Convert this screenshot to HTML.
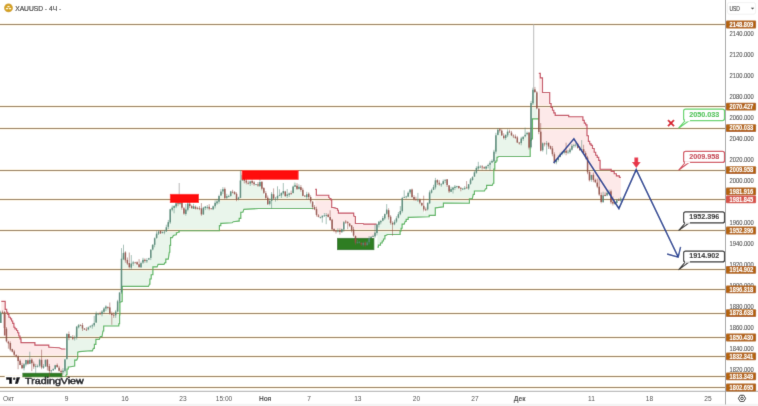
<!DOCTYPE html><html><head><meta charset="utf-8"><style>html,body{margin:0;padding:0;background:#fff;width:758px;height:406px;overflow:hidden}#w{position:absolute;left:0;top:0;width:758px;height:406px}svg{position:absolute;left:0;top:0}text{font-family:"Liberation Sans",sans-serif}</style></head><body><div id="w"><svg width="758" height="406" viewBox="0 0 758 406"><defs><filter id="bl" x="0" y="0" width="100%" height="100%"><feConvolveMatrix order="3" kernelMatrix="0.0081 0.0738 0.0081 0.0738 0.6724 0.0738 0.0081 0.0738 0.0081" edgeMode="duplicate"/></filter></defs><g filter="url(#bl)"><rect x="0" y="0" width="758" height="406" fill="#fff"/><rect x="0" y="403.8" width="758" height="3" fill="#f3f3f3"/><polygon points="1.3,301.4 5.0,301.4 5.2,301.4 5.2,309.4 5.5,309.4 6.7,309.4 6.7,312.2 7.8,312.2 7.8,314.4 8.9,314.4 8.9,317.2 10.5,317.2 10.5,318.8 11.6,318.8 11.6,321.0 12.7,321.0 12.7,323.3 13.9,323.3 13.9,327.2 15.0,327.2 15.0,328.8 16.6,328.8 16.6,330.5 17.7,330.5 17.7,332.7 18.8,332.7 18.8,336.0 20.0,336.0 20.0,338.8 21.0,338.8 21.0,342.6 34.6,342.6 34.9,342.6 34.9,345.1 35.2,345.1 48.2,345.1 48.8,345.1 48.8,347.2 49.4,347.2 59.3,347.8 61.7,349.0 65.4,349.0 65.4,358.3 63.9,359.0 62.9,372.9 61.0,373.0 59.0,369.0 57.0,367.0 55.0,366.0 53.5,369.0 52.0,369.0 50.5,373.0 49.0,371.0 47.0,367.0 45.5,361.0 44.0,364.0 42.5,368.0 41.0,366.0 39.5,361.0 38.0,367.0 36.5,366.0 35.0,367.0 33.0,366.0 31.5,364.0 30.0,361.0 28.5,365.0 27.0,358.0 25.5,361.0 24.0,364.0 22.5,368.0 20.5,365.0 18.5,361.0 16.5,355.0 14.0,355.0 12.0,351.0 10.0,348.0 8.5,345.0 6.5,341.0 4.8,335.0 3.6,313.0 1.3,313.0" fill="#fde9e9"/><polygon points="315.2,189.4 316.4,189.4 316.4,195.2 328.5,195.2 328.8,195.2 328.8,197.5 329.1,197.5 330.3,198.6 330.9,198.6 330.9,199.8 331.4,199.8 331.7,199.8 331.7,207.3 332.0,207.3 334.9,207.9 336.6,208.5 337.5,208.5 337.5,210.2 338.4,210.2 338.4,213.1 353.4,213.1 353.7,213.1 353.7,216.0 354.0,216.0 355.1,216.6 355.4,216.6 355.4,223.5 355.7,223.5 363.2,223.5 363.8,224.1 376.5,224.1 376.5,225.7 374.4,237.2 368.9,238.1 365.9,245.0 362.0,244.0 358.1,242.0 356.1,244.0 354.1,238.1 352.1,229.2 350.2,226.2 346.2,223.3 343.3,222.3 341.3,233.1 337.4,231.2 334.4,231.2 331.5,228.2 329.5,217.4 326.5,215.4 323.6,213.4 319.6,217.4 316.7,216.4 315.2,211.2" fill="#fde9e9"/><polygon points="538.8,73.3 540.3,73.3 540.3,77.8 542.5,77.8 542.5,92.5 549.7,92.5 549.7,103.5 551.1,103.5 551.1,107.5 552.5,107.5 552.5,110.2 553.8,110.2 553.8,112.9 555.2,112.9 555.2,115.3 568.7,115.3 568.7,116.7 582.9,116.7 582.9,120.4 584.3,120.4 584.3,123.1 585.7,123.1 585.7,124.8 587.0,124.8 587.0,135.7 588.4,135.7 588.4,141.4 589.7,141.4 589.7,143.8 591.1,143.8 591.1,145.4 592.5,145.4 592.5,148.5 594.2,148.5 594.2,152.2 595.7,152.2 595.7,155.2 597.2,155.2 597.2,157.4 598.7,157.4 598.7,160.4 600.1,160.4 600.1,169.2 611.2,169.2 611.2,171.4 614.2,171.4 614.2,173.7 616.4,173.7 616.4,175.9 619.4,175.9 619.4,177.4 620.9,177.4 620.9,199.0 620.5,199.0 617.4,201.1 614.3,202.2 611.1,202.2 609.0,192.8 605.9,194.9 602.8,196.9 600.7,203.2 599.6,194.9 597.5,186.5 594.4,181.3 591.3,176.0 588.1,182.3 587.1,163.5 585.0,153.0 581.8,149.9 578.7,147.8 575.6,144.6 572.4,146.7 569.3,150.9 565.1,152.0 560.9,154.1 557.8,157.2 554.6,161.4 552.6,155.1 549.4,146.7 546.3,144.6 543.1,142.6 540.2,153.0 538.8,133.2" fill="#fde9e9"/><polygon points="63.5,376.5 65.5,376.5 66.5,374.6 67.0,374.6 67.0,369.0 67.5,369.0 68.3,369.0 68.3,367.0 69.2,367.0 74.7,366.0 74.7,360.1 76.7,360.1 77.7,358.1 77.7,352.2 79.6,351.6 90.5,350.8 92.4,350.8 93.4,348.3 94.4,348.3 94.4,344.3 95.4,344.3 95.9,344.3 95.9,339.4 96.4,339.4 99.3,339.4 100.3,336.5 102.0,336.5 103.0,331.0 103.7,331.0 103.7,326.0 104.4,326.0 118.5,326.0 118.8,326.0 118.8,323.7 119.2,323.7 119.6,323.7 119.6,314.9 119.9,314.9 119.9,302.3 122.2,301.6 122.2,286.4 146.9,286.4 148.5,286.4 149.5,284.1 149.9,284.1 149.9,279.0 150.3,279.0 151.2,279.0 151.2,274.7 152.1,274.7 152.9,274.7 152.9,266.9 153.8,266.9 157.1,266.9 158.1,264.3 164.0,264.3 165.0,262.6 165.8,262.6 165.8,259.1 166.7,259.1 168.3,259.1 169.3,252.2 169.8,252.2 169.8,245.3 170.2,245.3 170.6,245.3 170.6,237.6 171.0,237.6 172.4,237.6 173.4,235.5 176.0,234.7 176.4,234.7 176.4,232.9 176.9,232.9 178.6,232.1 179.1,232.1 179.1,230.7 179.5,230.7 218.9,230.7 219.4,230.7 219.4,225.6 220.0,225.6 220.8,225.6 220.8,223.3 221.7,223.3 232.2,222.8 233.3,221.7 238.3,221.1 239.2,221.1 239.2,218.3 240.0,218.3 240.8,218.3 240.8,212.2 241.6,212.2 242.9,212.2 243.9,209.4 258.9,208.5 313.5,208.5 313.5,207.5 311.7,204.6 309.8,200.6 306.8,194.7 302.9,196.7 300.0,185.9 296.7,189.3 294.1,180.7 291.6,193.6 288.1,195.3 285.5,197.1 283.8,191.0 279.5,195.3 276.0,197.1 273.4,199.7 271.7,194.5 270.0,199.7 267.4,203.1 264.8,196.2 262.2,189.3 260.5,182.4 257.9,184.1 254.5,185.9 251.9,183.3 248.4,182.4 245.9,184.1 242.4,173.8 240.7,172.1 239.8,197.1 237.2,199.7 235.5,195.3 232.9,191.9 230.3,192.8 226.9,197.1 225.2,199.7 223.4,189.0 220.9,192.4 218.3,199.3 215.7,202.8 213.1,207.1 210.5,209.7 205.3,207.1 202.8,207.9 201.0,215.7 199.3,206.2 196.7,207.9 193.3,207.1 190.7,208.8 188.1,203.6 185.5,209.7 182.9,214.8 181.2,203.6 179.5,202.8 176.0,204.5 172.6,206.2 170.0,208.8 169.1,220.0 167.4,223.4 165.7,230.3 162.2,233.8 157.1,232.9 155.5,235.0 153.8,243.6 151.2,245.3 150.3,255.7 147.8,260.9 145.2,260.0 142.6,258.3 140.0,268.6 137.4,266.0 134.0,262.6 131.4,262.6 129.7,269.5 127.9,265.2 125.3,260.9 123.6,251.4 121.9,257.4 120.2,269.5 119.3,302.2 117.7,301.6 117.0,306.8 115.5,310.5 114.0,314.1 112.6,317.8 111.1,315.6 109.6,311.9 108.1,306.8 106.6,306.0 104.4,308.2 102.2,310.5 100.0,313.4 97.4,312.8 95.4,315.8 93.4,325.6 87.5,326.6 85.5,331.5 82.6,327.6 79.6,323.6 76.7,325.6 74.7,336.5 72.7,338.4 69.8,336.5 66.8,335.5 65.8,358.1 63.9,359.0 63.5,364.6" fill="#e9f5eb"/><polygon points="377.4,247.1 378.4,247.1 378.4,245.1 379.5,245.1 380.5,245.1 380.5,243.0 381.5,243.0 382.2,243.0 382.2,241.0 382.9,241.0 383.5,241.0 383.5,239.0 384.2,239.0 384.9,239.0 384.9,235.6 385.6,235.6 387.6,234.5 399.8,234.5 400.1,234.5 400.1,230.9 400.4,230.9 401.1,230.9 401.1,228.2 401.8,228.2 402.1,228.2 402.1,224.1 402.5,224.1 404.2,224.1 405.2,221.4 406.2,221.4 406.2,219.4 407.2,219.4 408.2,219.4 408.2,217.3 409.2,217.3 428.9,216.7 429.2,216.7 429.2,215.3 429.5,215.3 435.0,215.3 435.3,215.3 435.3,207.9 435.6,207.9 443.1,206.9 443.4,206.9 443.4,203.1 443.7,203.1 468.8,203.2 469.4,203.2 469.4,198.7 469.9,198.7 472.3,198.7 473.3,194.3 474.4,194.3 474.4,191.0 475.5,191.0 484.5,191.0 485.5,188.7 486.6,188.7 486.6,185.4 487.7,185.4 492.2,185.4 493.2,183.2 493.8,183.2 493.8,169.1 494.4,169.1 494.8,169.1 494.8,162.4 495.2,162.4 495.9,162.4 495.9,161.0 496.6,161.0 497.0,161.0 497.0,157.3 497.4,157.3 498.9,156.5 529.9,156.5 530.2,156.5 530.2,140.3 530.6,140.3 531.4,140.3 531.4,138.8 532.1,138.8 532.5,138.8 532.5,118.9 532.8,118.9 538.0,118.9 538.0,121.8 537.8,119.0 536.0,97.0 534.2,88.5 532.4,92.0 530.6,106.0 529.2,150.0 528.4,139.5 526.9,132.2 525.5,132.9 524.0,137.3 521.8,136.6 519.5,141.8 517.3,141.0 515.8,139.5 513.6,136.6 510.7,133.6 507.7,130.7 506.2,132.2 504.8,137.3 502.6,139.5 501.1,132.2 499.6,130.7 498.1,129.2 495.9,136.6 494.4,148.4 493.2,159.9 491.0,163.2 486.6,165.5 483.2,168.8 478.8,166.6 475.5,167.7 473.3,177.6 469.9,178.8 467.7,186.5 462.2,187.6 458.8,188.7 455.5,185.4 452.2,186.5 448.9,191.0 444.4,178.8 442.5,183.8 439.3,183.8 436.2,179.7 434.1,183.8 432.0,190.1 428.9,192.2 427.8,203.7 425.7,209.0 424.7,214.2 422.6,206.9 420.5,201.6 417.3,199.5 414.2,199.5 412.1,196.4 410.0,190.1 409.0,191.2 406.9,197.5 403.7,198.5 401.6,199.5 400.6,209.0 398.5,213.2 395.4,220.5 392.2,223.6 389.1,220.5 387.0,210.0 385.9,212.1 382.8,219.4 379.7,219.4 377.4,223.9" fill="#e9f5eb"/><line x1="0" y1="24.50" x2="725.5" y2="24.50" stroke="#fcf1da" stroke-opacity="0.7" stroke-width="3"/><line x1="0" y1="106.50" x2="725.5" y2="106.50" stroke="#fcf1da" stroke-opacity="0.7" stroke-width="3"/><line x1="0" y1="128.50" x2="725.5" y2="128.50" stroke="#fcf1da" stroke-opacity="0.7" stroke-width="3"/><line x1="0" y1="170.50" x2="725.5" y2="170.50" stroke="#fcf1da" stroke-opacity="0.7" stroke-width="3"/><line x1="0" y1="199.50" x2="725.5" y2="199.50" stroke="#fcf1da" stroke-opacity="0.7" stroke-width="3"/><line x1="0" y1="230.50" x2="725.5" y2="230.50" stroke="#fcf1da" stroke-opacity="0.7" stroke-width="3"/><line x1="0" y1="269.50" x2="725.5" y2="269.50" stroke="#fcf1da" stroke-opacity="0.7" stroke-width="3"/><line x1="0" y1="289.50" x2="725.5" y2="289.50" stroke="#fcf1da" stroke-opacity="0.7" stroke-width="3"/><line x1="0" y1="313.50" x2="725.5" y2="313.50" stroke="#fcf1da" stroke-opacity="0.7" stroke-width="3"/><line x1="0" y1="337.50" x2="725.5" y2="337.50" stroke="#fcf1da" stroke-opacity="0.7" stroke-width="3"/><line x1="0" y1="356.50" x2="725.5" y2="356.50" stroke="#fcf1da" stroke-opacity="0.7" stroke-width="3"/><line x1="0" y1="376.50" x2="725.5" y2="376.50" stroke="#fcf1da" stroke-opacity="0.7" stroke-width="3"/><line x1="0" y1="387.50" x2="725.5" y2="387.50" stroke="#fcf1da" stroke-opacity="0.7" stroke-width="3"/><line x1="0" y1="24.50" x2="725.5" y2="24.50" stroke="#977d57" stroke-width="1"/><line x1="0" y1="106.50" x2="725.5" y2="106.50" stroke="#977d57" stroke-width="1"/><line x1="0" y1="128.50" x2="725.5" y2="128.50" stroke="#977d57" stroke-width="1"/><line x1="0" y1="170.50" x2="725.5" y2="170.50" stroke="#977d57" stroke-width="1"/><line x1="0" y1="199.50" x2="725.5" y2="199.50" stroke="#977d57" stroke-width="1"/><line x1="0" y1="230.50" x2="725.5" y2="230.50" stroke="#977d57" stroke-width="1"/><line x1="0" y1="269.50" x2="725.5" y2="269.50" stroke="#977d57" stroke-width="1"/><line x1="0" y1="289.50" x2="725.5" y2="289.50" stroke="#977d57" stroke-width="1"/><line x1="0" y1="313.50" x2="725.5" y2="313.50" stroke="#977d57" stroke-width="1"/><line x1="0" y1="337.50" x2="725.5" y2="337.50" stroke="#977d57" stroke-width="1"/><line x1="0" y1="356.50" x2="725.5" y2="356.50" stroke="#977d57" stroke-width="1"/><line x1="0" y1="376.50" x2="725.5" y2="376.50" stroke="#977d57" stroke-width="1"/><line x1="0" y1="387.50" x2="725.5" y2="387.50" stroke="#977d57" stroke-width="1"/><polyline points="1.3,301.4 5.0,301.4 5.2,301.4 5.2,309.4 5.5,309.4 6.7,309.4 6.7,312.2 7.8,312.2 7.8,314.4 8.9,314.4 8.9,317.2 10.5,317.2 10.5,318.8 11.6,318.8 11.6,321.0 12.7,321.0 12.7,323.3 13.9,323.3 13.9,327.2 15.0,327.2 15.0,328.8 16.6,328.8 16.6,330.5 17.7,330.5 17.7,332.7 18.8,332.7 18.8,336.0 20.0,336.0 20.0,338.8 21.0,338.8 21.0,342.6 34.6,342.6 34.9,342.6 34.9,345.1 35.2,345.1 48.2,345.1 48.8,345.1 48.8,347.2 49.4,347.2 59.3,347.8 61.7,349.0 65.4,349.0" fill="none" stroke="#c44a5e" stroke-width="1.15" stroke-linejoin="miter"/><polyline points="315.2,189.4 316.4,189.4 316.4,195.2 328.5,195.2 328.8,195.2 328.8,197.5 329.1,197.5 330.3,198.6 330.9,198.6 330.9,199.8 331.4,199.8 331.7,199.8 331.7,207.3 332.0,207.3 334.9,207.9 336.6,208.5 337.5,208.5 337.5,210.2 338.4,210.2 338.4,213.1 353.4,213.1 353.7,213.1 353.7,216.0 354.0,216.0 355.1,216.6 355.4,216.6 355.4,223.5 355.7,223.5 363.2,223.5 363.8,224.1 376.5,224.1" fill="none" stroke="#c44a5e" stroke-width="1.15" stroke-linejoin="miter"/><polyline points="538.8,73.3 540.3,73.3 540.3,77.8 542.5,77.8 542.5,92.5 549.7,92.5 549.7,103.5 551.1,103.5 551.1,107.5 552.5,107.5 552.5,110.2 553.8,110.2 553.8,112.9 555.2,112.9 555.2,115.3 568.7,115.3 568.7,116.7 582.9,116.7 582.9,120.4 584.3,120.4 584.3,123.1 585.7,123.1 585.7,124.8 587.0,124.8 587.0,135.7 588.4,135.7 588.4,141.4 589.7,141.4 589.7,143.8 591.1,143.8 591.1,145.4 592.5,145.4 592.5,148.5 594.2,148.5 594.2,152.2 595.7,152.2 595.7,155.2 597.2,155.2 597.2,157.4 598.7,157.4 598.7,160.4 600.1,160.4 600.1,169.2 611.2,169.2 611.2,171.4 614.2,171.4 614.2,173.7 616.4,173.7 616.4,175.9 619.4,175.9 619.4,177.4 620.9,177.4" fill="none" stroke="#c44a5e" stroke-width="1.15" stroke-linejoin="miter"/><polyline points="63.5,376.5 65.5,376.5 66.5,374.6 67.0,374.6 67.0,369.0 67.5,369.0 68.3,369.0 68.3,367.0 69.2,367.0 74.7,366.0 74.7,360.1 76.7,360.1 77.7,358.1 77.7,352.2 79.6,351.6 90.5,350.8 92.4,350.8 93.4,348.3 94.4,348.3 94.4,344.3 95.4,344.3 95.9,344.3 95.9,339.4 96.4,339.4 99.3,339.4 100.3,336.5 102.0,336.5 103.0,331.0 103.7,331.0 103.7,326.0 104.4,326.0 118.5,326.0 118.8,326.0 118.8,323.7 119.2,323.7 119.6,323.7 119.6,314.9 119.9,314.9 119.9,302.3 122.2,301.6 122.2,286.4 146.9,286.4 148.5,286.4 149.5,284.1 149.9,284.1 149.9,279.0 150.3,279.0 151.2,279.0 151.2,274.7 152.1,274.7 152.9,274.7 152.9,266.9 153.8,266.9 157.1,266.9 158.1,264.3 164.0,264.3 165.0,262.6 165.8,262.6 165.8,259.1 166.7,259.1 168.3,259.1 169.3,252.2 169.8,252.2 169.8,245.3 170.2,245.3 170.6,245.3 170.6,237.6 171.0,237.6 172.4,237.6 173.4,235.5 176.0,234.7 176.4,234.7 176.4,232.9 176.9,232.9 178.6,232.1 179.1,232.1 179.1,230.7 179.5,230.7 218.9,230.7 219.4,230.7 219.4,225.6 220.0,225.6 220.8,225.6 220.8,223.3 221.7,223.3 232.2,222.8 233.3,221.7 238.3,221.1 239.2,221.1 239.2,218.3 240.0,218.3 240.8,218.3 240.8,212.2 241.6,212.2 242.9,212.2 243.9,209.4 258.9,208.5 313.5,208.5" fill="none" stroke="#55b35c" stroke-width="1.15" stroke-linejoin="miter"/><polyline points="377.4,247.1 378.4,247.1 378.4,245.1 379.5,245.1 380.5,245.1 380.5,243.0 381.5,243.0 382.2,243.0 382.2,241.0 382.9,241.0 383.5,241.0 383.5,239.0 384.2,239.0 384.9,239.0 384.9,235.6 385.6,235.6 387.6,234.5 399.8,234.5 400.1,234.5 400.1,230.9 400.4,230.9 401.1,230.9 401.1,228.2 401.8,228.2 402.1,228.2 402.1,224.1 402.5,224.1 404.2,224.1 405.2,221.4 406.2,221.4 406.2,219.4 407.2,219.4 408.2,219.4 408.2,217.3 409.2,217.3 428.9,216.7 429.2,216.7 429.2,215.3 429.5,215.3 435.0,215.3 435.3,215.3 435.3,207.9 435.6,207.9 443.1,206.9 443.4,206.9 443.4,203.1 443.7,203.1 468.8,203.2 469.4,203.2 469.4,198.7 469.9,198.7 472.3,198.7 473.3,194.3 474.4,194.3 474.4,191.0 475.5,191.0 484.5,191.0 485.5,188.7 486.6,188.7 486.6,185.4 487.7,185.4 492.2,185.4 493.2,183.2 493.8,183.2 493.8,169.1 494.4,169.1 494.8,169.1 494.8,162.4 495.2,162.4 495.9,162.4 495.9,161.0 496.6,161.0 497.0,161.0 497.0,157.3 497.4,157.3 498.9,156.5 529.9,156.5 530.2,156.5 530.2,140.3 530.6,140.3 531.4,140.3 531.4,138.8 532.1,138.8 532.5,138.8 532.5,118.9 532.8,118.9 538.0,118.9" fill="none" stroke="#55b35c" stroke-width="1.15" stroke-linejoin="miter"/><rect x="22.4" y="372.8" width="40" height="4.4" fill="#2f7d22"/><rect x="337" y="237.9" width="37.3" height="12.2" fill="#2f7d22"/><g opacity="0.97"><line x1="0.6" y1="310.7" x2="0.6" y2="313.0" stroke="#528777" stroke-width="0.55"/><rect x="-0.15" y="312.4" width="1.5" height="0.8" fill="#528777"/><line x1="2.5" y1="310.5" x2="2.5" y2="312.9" stroke="#934e45" stroke-width="0.55"/><rect x="1.80" y="311.9" width="1.5" height="0.8" fill="#934e45"/><line x1="4.5" y1="310.9" x2="4.5" y2="334.6" stroke="#934e45" stroke-width="0.55"/><rect x="3.75" y="312.1" width="1.5" height="16.0" fill="#934e45"/><line x1="6.5" y1="327.1" x2="6.5" y2="342.4" stroke="#934e45" stroke-width="0.55"/><rect x="5.70" y="328.7" width="1.5" height="12.6" fill="#934e45"/><line x1="8.4" y1="340.8" x2="8.4" y2="348.7" stroke="#934e45" stroke-width="0.55"/><rect x="7.65" y="341.7" width="1.5" height="1.7" fill="#934e45"/><line x1="10.3" y1="341.4" x2="10.3" y2="351.3" stroke="#934e45" stroke-width="0.55"/><rect x="9.60" y="343.0" width="1.5" height="6.6" fill="#934e45"/><line x1="12.3" y1="348.7" x2="12.3" y2="352.4" stroke="#934e45" stroke-width="0.55"/><rect x="11.55" y="349.0" width="1.5" height="2.7" fill="#934e45"/><line x1="14.2" y1="349.9" x2="14.2" y2="356.1" stroke="#934e45" stroke-width="0.55"/><rect x="13.50" y="351.5" width="1.5" height="3.2" fill="#934e45"/><line x1="16.2" y1="354.2" x2="16.2" y2="357.5" stroke="#934e45" stroke-width="0.55"/><rect x="15.45" y="355.0" width="1.5" height="0.9" fill="#934e45"/><line x1="18.1" y1="355.3" x2="18.1" y2="369.2" stroke="#934e45" stroke-width="0.55"/><rect x="17.40" y="356.2" width="1.5" height="4.9" fill="#934e45"/><line x1="20.1" y1="359.4" x2="20.1" y2="365.3" stroke="#934e45" stroke-width="0.55"/><rect x="19.35" y="360.7" width="1.5" height="4.3" fill="#934e45"/><line x1="22.0" y1="362.8" x2="22.0" y2="369.1" stroke="#934e45" stroke-width="0.55"/><rect x="21.30" y="365.1" width="1.5" height="3.1" fill="#934e45"/><line x1="24.0" y1="363.0" x2="24.0" y2="370.5" stroke="#528777" stroke-width="0.55"/><rect x="23.25" y="364.3" width="1.5" height="4.0" fill="#528777"/><line x1="25.9" y1="359.7" x2="25.9" y2="366.4" stroke="#528777" stroke-width="0.55"/><rect x="25.20" y="360.0" width="1.5" height="4.5" fill="#528777"/><line x1="27.9" y1="359.5" x2="27.9" y2="364.9" stroke="#934e45" stroke-width="0.55"/><rect x="27.15" y="360.4" width="1.5" height="3.4" fill="#934e45"/><line x1="29.8" y1="351.7" x2="29.8" y2="364.2" stroke="#528777" stroke-width="0.55"/><rect x="29.10" y="359.9" width="1.5" height="3.9" fill="#528777"/><line x1="31.8" y1="358.4" x2="31.8" y2="371.2" stroke="#934e45" stroke-width="0.55"/><rect x="31.05" y="359.6" width="1.5" height="3.6" fill="#934e45"/><line x1="33.7" y1="361.5" x2="33.7" y2="368.8" stroke="#934e45" stroke-width="0.55"/><rect x="33.00" y="363.7" width="1.5" height="2.9" fill="#934e45"/><line x1="35.7" y1="363.9" x2="35.7" y2="372.9" stroke="#528777" stroke-width="0.55"/><rect x="34.95" y="366.3" width="1.5" height="0.8" fill="#528777"/><line x1="37.6" y1="364.5" x2="37.6" y2="367.6" stroke="#528777" stroke-width="0.55"/><rect x="36.90" y="365.9" width="1.5" height="0.8" fill="#528777"/><line x1="39.6" y1="358.7" x2="39.6" y2="367.4" stroke="#528777" stroke-width="0.55"/><rect x="38.85" y="359.7" width="1.5" height="6.1" fill="#528777"/><line x1="41.6" y1="349.7" x2="41.6" y2="369.2" stroke="#934e45" stroke-width="0.55"/><rect x="40.80" y="359.8" width="1.5" height="7.6" fill="#934e45"/><line x1="43.5" y1="364.1" x2="43.5" y2="368.9" stroke="#528777" stroke-width="0.55"/><rect x="42.75" y="366.2" width="1.5" height="1.6" fill="#528777"/><line x1="45.5" y1="359.5" x2="45.5" y2="366.8" stroke="#528777" stroke-width="0.55"/><rect x="44.70" y="359.8" width="1.5" height="6.6" fill="#528777"/><line x1="47.4" y1="359.3" x2="47.4" y2="370.5" stroke="#934e45" stroke-width="0.55"/><rect x="46.65" y="359.6" width="1.5" height="7.1" fill="#934e45"/><line x1="49.4" y1="363.9" x2="49.4" y2="377.2" stroke="#934e45" stroke-width="0.55"/><rect x="48.60" y="366.1" width="1.5" height="4.9" fill="#934e45"/><line x1="51.3" y1="369.9" x2="51.3" y2="373.1" stroke="#528777" stroke-width="0.55"/><rect x="50.55" y="370.4" width="1.5" height="0.8" fill="#528777"/><line x1="53.3" y1="368.5" x2="53.3" y2="370.8" stroke="#528777" stroke-width="0.55"/><rect x="52.50" y="368.9" width="1.5" height="1.5" fill="#528777"/><line x1="55.2" y1="364.8" x2="55.2" y2="369.5" stroke="#528777" stroke-width="0.55"/><rect x="54.45" y="365.3" width="1.5" height="3.9" fill="#528777"/><line x1="57.2" y1="363.4" x2="57.2" y2="367.5" stroke="#934e45" stroke-width="0.55"/><rect x="56.40" y="364.9" width="1.5" height="2.3" fill="#934e45"/><line x1="59.1" y1="365.8" x2="59.1" y2="371.6" stroke="#934e45" stroke-width="0.55"/><rect x="58.35" y="367.7" width="1.5" height="3.1" fill="#934e45"/><line x1="61.1" y1="369.6" x2="61.1" y2="374.0" stroke="#934e45" stroke-width="0.55"/><rect x="60.30" y="371.1" width="1.5" height="0.9" fill="#934e45"/><line x1="63.0" y1="368.1" x2="63.0" y2="374.6" stroke="#528777" stroke-width="0.55"/><rect x="62.25" y="370.6" width="1.5" height="1.7" fill="#528777"/><line x1="65.0" y1="358.8" x2="65.0" y2="372.4" stroke="#528777" stroke-width="0.55"/><rect x="64.20" y="359.5" width="1.5" height="11.4" fill="#528777"/><line x1="66.9" y1="333.2" x2="66.9" y2="359.8" stroke="#528777" stroke-width="0.55"/><rect x="66.15" y="334.0" width="1.5" height="24.9" fill="#528777"/><line x1="68.9" y1="331.5" x2="68.9" y2="340.2" stroke="#934e45" stroke-width="0.55"/><rect x="68.10" y="334.0" width="1.5" height="3.7" fill="#934e45"/><line x1="70.8" y1="336.0" x2="70.8" y2="338.0" stroke="#528777" stroke-width="0.55"/><rect x="70.05" y="336.7" width="1.5" height="0.8" fill="#528777"/><line x1="72.8" y1="335.0" x2="72.8" y2="340.1" stroke="#934e45" stroke-width="0.55"/><rect x="72.00" y="337.2" width="1.5" height="1.5" fill="#934e45"/><line x1="74.7" y1="335.7" x2="74.7" y2="340.6" stroke="#528777" stroke-width="0.55"/><rect x="73.95" y="337.5" width="1.5" height="0.8" fill="#528777"/><line x1="76.7" y1="326.0" x2="76.7" y2="339.5" stroke="#528777" stroke-width="0.55"/><rect x="75.90" y="326.7" width="1.5" height="10.8" fill="#528777"/><line x1="78.6" y1="324.1" x2="78.6" y2="328.4" stroke="#528777" stroke-width="0.55"/><rect x="77.85" y="325.3" width="1.5" height="2.0" fill="#528777"/><line x1="80.6" y1="324.4" x2="80.6" y2="326.1" stroke="#934e45" stroke-width="0.55"/><rect x="79.80" y="324.9" width="1.5" height="0.8" fill="#934e45"/><line x1="82.5" y1="323.0" x2="82.5" y2="331.0" stroke="#934e45" stroke-width="0.55"/><rect x="81.75" y="325.2" width="1.5" height="3.3" fill="#934e45"/><line x1="84.5" y1="328.0" x2="84.5" y2="329.8" stroke="#934e45" stroke-width="0.55"/><rect x="83.70" y="328.5" width="1.5" height="1.1" fill="#934e45"/><line x1="86.4" y1="327.2" x2="86.4" y2="331.0" stroke="#934e45" stroke-width="0.55"/><rect x="85.65" y="329.6" width="1.5" height="0.8" fill="#934e45"/><line x1="88.4" y1="326.7" x2="88.4" y2="330.3" stroke="#528777" stroke-width="0.55"/><rect x="87.60" y="327.5" width="1.5" height="1.9" fill="#528777"/><line x1="90.3" y1="325.2" x2="90.3" y2="327.7" stroke="#528777" stroke-width="0.55"/><rect x="89.55" y="326.4" width="1.5" height="0.8" fill="#528777"/><line x1="92.3" y1="323.7" x2="92.3" y2="328.7" stroke="#528777" stroke-width="0.55"/><rect x="91.50" y="325.3" width="1.5" height="1.0" fill="#528777"/><line x1="94.2" y1="315.9" x2="94.2" y2="326.8" stroke="#528777" stroke-width="0.55"/><rect x="93.45" y="323.0" width="1.5" height="2.3" fill="#528777"/><line x1="96.2" y1="311.5" x2="96.2" y2="323.0" stroke="#528777" stroke-width="0.55"/><rect x="95.40" y="313.7" width="1.5" height="8.8" fill="#528777"/><line x1="98.1" y1="312.7" x2="98.1" y2="315.2" stroke="#528777" stroke-width="0.55"/><rect x="97.35" y="313.7" width="1.5" height="0.8" fill="#528777"/><line x1="100.1" y1="311.7" x2="100.1" y2="315.0" stroke="#934e45" stroke-width="0.55"/><rect x="99.30" y="313.2" width="1.5" height="1.0" fill="#934e45"/><line x1="102.0" y1="310.1" x2="102.0" y2="316.3" stroke="#528777" stroke-width="0.55"/><rect x="101.25" y="311.6" width="1.5" height="2.6" fill="#528777"/><line x1="104.0" y1="307.1" x2="104.0" y2="313.2" stroke="#528777" stroke-width="0.55"/><rect x="103.20" y="308.5" width="1.5" height="3.3" fill="#528777"/><line x1="105.9" y1="305.2" x2="105.9" y2="311.0" stroke="#528777" stroke-width="0.55"/><rect x="105.15" y="306.5" width="1.5" height="2.0" fill="#528777"/><line x1="107.9" y1="306.3" x2="107.9" y2="309.4" stroke="#934e45" stroke-width="0.55"/><rect x="107.10" y="307.1" width="1.5" height="0.8" fill="#934e45"/><line x1="109.8" y1="302.5" x2="109.8" y2="314.7" stroke="#934e45" stroke-width="0.55"/><rect x="109.05" y="307.4" width="1.5" height="6.0" fill="#934e45"/><line x1="111.8" y1="311.6" x2="111.8" y2="324.8" stroke="#934e45" stroke-width="0.55"/><rect x="111.00" y="313.7" width="1.5" height="1.5" fill="#934e45"/><line x1="113.7" y1="312.4" x2="113.7" y2="317.9" stroke="#934e45" stroke-width="0.55"/><rect x="112.95" y="314.8" width="1.5" height="0.8" fill="#934e45"/><line x1="115.7" y1="310.2" x2="115.7" y2="317.9" stroke="#528777" stroke-width="0.55"/><rect x="114.90" y="311.6" width="1.5" height="3.7" fill="#528777"/><line x1="117.6" y1="299.8" x2="117.6" y2="312.5" stroke="#528777" stroke-width="0.55"/><rect x="116.85" y="301.3" width="1.5" height="10.2" fill="#528777"/><line x1="119.6" y1="292.3" x2="119.6" y2="303.1" stroke="#528777" stroke-width="0.55"/><rect x="118.80" y="292.5" width="1.5" height="9.0" fill="#528777"/><line x1="121.5" y1="248.1" x2="121.5" y2="293.8" stroke="#528777" stroke-width="0.55"/><rect x="120.75" y="258.7" width="1.5" height="33.6" fill="#528777"/><line x1="123.5" y1="244.7" x2="123.5" y2="260.1" stroke="#528777" stroke-width="0.55"/><rect x="122.70" y="252.9" width="1.5" height="6.4" fill="#528777"/><line x1="125.4" y1="251.2" x2="125.4" y2="262.7" stroke="#934e45" stroke-width="0.55"/><rect x="124.65" y="252.4" width="1.5" height="7.9" fill="#934e45"/><line x1="127.4" y1="257.5" x2="127.4" y2="265.1" stroke="#934e45" stroke-width="0.55"/><rect x="126.60" y="259.9" width="1.5" height="3.6" fill="#934e45"/><line x1="129.3" y1="252.5" x2="129.3" y2="268.5" stroke="#934e45" stroke-width="0.55"/><rect x="128.55" y="263.0" width="1.5" height="4.2" fill="#934e45"/><line x1="131.3" y1="255.1" x2="131.3" y2="269.8" stroke="#528777" stroke-width="0.55"/><rect x="130.50" y="263.6" width="1.5" height="4.0" fill="#528777"/><line x1="133.2" y1="260.9" x2="133.2" y2="265.9" stroke="#528777" stroke-width="0.55"/><rect x="132.45" y="262.5" width="1.5" height="1.0" fill="#528777"/><line x1="135.2" y1="261.7" x2="135.2" y2="263.0" stroke="#934e45" stroke-width="0.55"/><rect x="134.40" y="262.5" width="1.5" height="0.8" fill="#934e45"/><line x1="137.1" y1="261.3" x2="137.1" y2="265.2" stroke="#934e45" stroke-width="0.55"/><rect x="136.35" y="262.2" width="1.5" height="2.1" fill="#934e45"/><line x1="139.1" y1="259.1" x2="139.1" y2="268.0" stroke="#934e45" stroke-width="0.55"/><rect x="138.30" y="264.3" width="1.5" height="2.7" fill="#934e45"/><line x1="141.0" y1="261.6" x2="141.0" y2="267.9" stroke="#528777" stroke-width="0.55"/><rect x="140.25" y="263.1" width="1.5" height="4.2" fill="#528777"/><line x1="143.0" y1="257.8" x2="143.0" y2="263.9" stroke="#528777" stroke-width="0.55"/><rect x="142.20" y="259.9" width="1.5" height="2.7" fill="#528777"/><line x1="144.9" y1="258.4" x2="144.9" y2="262.7" stroke="#934e45" stroke-width="0.55"/><rect x="144.15" y="259.8" width="1.5" height="1.1" fill="#934e45"/><line x1="146.9" y1="258.2" x2="146.9" y2="263.0" stroke="#528777" stroke-width="0.55"/><rect x="146.10" y="260.1" width="1.5" height="1.2" fill="#528777"/><line x1="148.8" y1="257.8" x2="148.8" y2="259.9" stroke="#528777" stroke-width="0.55"/><rect x="148.05" y="258.3" width="1.5" height="1.2" fill="#528777"/><line x1="150.8" y1="249.3" x2="150.8" y2="260.1" stroke="#528777" stroke-width="0.55"/><rect x="150.00" y="249.7" width="1.5" height="8.2" fill="#528777"/><line x1="152.7" y1="244.1" x2="152.7" y2="250.4" stroke="#528777" stroke-width="0.55"/><rect x="151.95" y="244.9" width="1.5" height="4.6" fill="#528777"/><line x1="154.6" y1="237.4" x2="154.6" y2="247.3" stroke="#528777" stroke-width="0.55"/><rect x="153.90" y="238.2" width="1.5" height="6.6" fill="#528777"/><line x1="156.6" y1="231.2" x2="156.6" y2="238.8" stroke="#528777" stroke-width="0.55"/><rect x="155.85" y="233.7" width="1.5" height="4.2" fill="#528777"/><line x1="158.5" y1="230.2" x2="158.5" y2="235.0" stroke="#528777" stroke-width="0.55"/><rect x="157.80" y="231.6" width="1.5" height="2.0" fill="#528777"/><line x1="160.5" y1="230.1" x2="160.5" y2="233.9" stroke="#934e45" stroke-width="0.55"/><rect x="159.75" y="231.0" width="1.5" height="2.5" fill="#934e45"/><line x1="162.4" y1="231.2" x2="162.4" y2="233.7" stroke="#528777" stroke-width="0.55"/><rect x="161.70" y="232.1" width="1.5" height="0.9" fill="#528777"/><line x1="164.4" y1="229.9" x2="164.4" y2="234.3" stroke="#528777" stroke-width="0.55"/><rect x="163.65" y="231.7" width="1.5" height="0.8" fill="#528777"/><line x1="166.3" y1="224.7" x2="166.3" y2="232.0" stroke="#528777" stroke-width="0.55"/><rect x="165.60" y="227.3" width="1.5" height="4.2" fill="#528777"/><line x1="168.3" y1="219.9" x2="168.3" y2="229.1" stroke="#528777" stroke-width="0.55"/><rect x="167.55" y="222.1" width="1.5" height="4.7" fill="#528777"/><line x1="170.2" y1="208.8" x2="170.2" y2="223.9" stroke="#528777" stroke-width="0.55"/><rect x="169.50" y="209.3" width="1.5" height="13.1" fill="#528777"/><line x1="172.2" y1="205.5" x2="172.2" y2="211.3" stroke="#528777" stroke-width="0.55"/><rect x="171.45" y="207.7" width="1.5" height="2.0" fill="#528777"/><line x1="174.1" y1="205.3" x2="174.1" y2="213.3" stroke="#528777" stroke-width="0.55"/><rect x="173.40" y="206.0" width="1.5" height="1.9" fill="#528777"/><line x1="176.1" y1="201.6" x2="176.1" y2="208.1" stroke="#528777" stroke-width="0.55"/><rect x="175.35" y="203.2" width="1.5" height="3.2" fill="#528777"/><line x1="178.0" y1="203.0" x2="178.0" y2="206.2" stroke="#934e45" stroke-width="0.55"/><rect x="177.30" y="203.2" width="1.5" height="0.9" fill="#934e45"/><line x1="180.0" y1="201.3" x2="180.0" y2="204.5" stroke="#528777" stroke-width="0.55"/><rect x="179.25" y="203.0" width="1.5" height="1.1" fill="#528777"/><line x1="181.9" y1="201.7" x2="181.9" y2="209.7" stroke="#934e45" stroke-width="0.55"/><rect x="181.20" y="202.5" width="1.5" height="5.2" fill="#934e45"/><line x1="183.9" y1="206.9" x2="183.9" y2="214.7" stroke="#934e45" stroke-width="0.55"/><rect x="183.15" y="208.3" width="1.5" height="5.3" fill="#934e45"/><line x1="185.8" y1="203.9" x2="185.8" y2="215.7" stroke="#528777" stroke-width="0.55"/><rect x="185.10" y="209.5" width="1.5" height="4.5" fill="#528777"/><line x1="187.8" y1="199.2" x2="187.8" y2="211.3" stroke="#528777" stroke-width="0.55"/><rect x="187.05" y="203.5" width="1.5" height="6.2" fill="#528777"/><line x1="189.7" y1="201.9" x2="189.7" y2="208.0" stroke="#934e45" stroke-width="0.55"/><rect x="189.00" y="203.7" width="1.5" height="2.4" fill="#934e45"/><line x1="191.7" y1="204.8" x2="191.7" y2="208.7" stroke="#934e45" stroke-width="0.55"/><rect x="190.95" y="206.1" width="1.5" height="2.1" fill="#934e45"/><line x1="193.6" y1="203.8" x2="193.6" y2="209.0" stroke="#528777" stroke-width="0.55"/><rect x="192.90" y="206.2" width="1.5" height="2.6" fill="#528777"/><line x1="195.6" y1="205.5" x2="195.6" y2="209.5" stroke="#934e45" stroke-width="0.55"/><rect x="194.85" y="206.8" width="1.5" height="1.9" fill="#934e45"/><line x1="197.5" y1="206.7" x2="197.5" y2="209.3" stroke="#934e45" stroke-width="0.55"/><rect x="196.80" y="208.3" width="1.5" height="0.8" fill="#934e45"/><line x1="199.5" y1="206.2" x2="199.5" y2="210.2" stroke="#934e45" stroke-width="0.55"/><rect x="198.75" y="208.3" width="1.5" height="0.8" fill="#934e45"/><line x1="201.4" y1="203.1" x2="201.4" y2="215.8" stroke="#934e45" stroke-width="0.55"/><rect x="200.70" y="208.4" width="1.5" height="6.0" fill="#934e45"/><line x1="203.4" y1="206.8" x2="203.4" y2="214.9" stroke="#528777" stroke-width="0.55"/><rect x="202.65" y="207.7" width="1.5" height="6.7" fill="#528777"/><line x1="205.3" y1="206.3" x2="205.3" y2="210.1" stroke="#528777" stroke-width="0.55"/><rect x="204.60" y="206.5" width="1.5" height="1.6" fill="#528777"/><line x1="207.3" y1="205.0" x2="207.3" y2="209.4" stroke="#528777" stroke-width="0.55"/><rect x="206.55" y="206.9" width="1.5" height="0.8" fill="#528777"/><line x1="209.2" y1="204.2" x2="209.2" y2="210.3" stroke="#934e45" stroke-width="0.55"/><rect x="208.50" y="206.8" width="1.5" height="1.9" fill="#934e45"/><line x1="211.2" y1="208.1" x2="211.2" y2="209.2" stroke="#934e45" stroke-width="0.55"/><rect x="210.45" y="208.4" width="1.5" height="0.8" fill="#934e45"/><line x1="213.1" y1="205.5" x2="213.1" y2="210.1" stroke="#528777" stroke-width="0.55"/><rect x="212.40" y="206.3" width="1.5" height="3.0" fill="#528777"/><line x1="215.1" y1="200.3" x2="215.1" y2="208.5" stroke="#528777" stroke-width="0.55"/><rect x="214.35" y="202.8" width="1.5" height="3.4" fill="#528777"/><line x1="217.0" y1="198.9" x2="217.0" y2="204.8" stroke="#528777" stroke-width="0.55"/><rect x="216.30" y="201.4" width="1.5" height="1.9" fill="#528777"/><line x1="219.0" y1="194.7" x2="219.0" y2="203.7" stroke="#528777" stroke-width="0.55"/><rect x="218.25" y="196.0" width="1.5" height="5.7" fill="#528777"/><line x1="220.9" y1="189.2" x2="220.9" y2="196.0" stroke="#528777" stroke-width="0.55"/><rect x="220.20" y="191.6" width="1.5" height="3.8" fill="#528777"/><line x1="222.9" y1="187.2" x2="222.9" y2="193.9" stroke="#528777" stroke-width="0.55"/><rect x="222.15" y="189.2" width="1.5" height="2.2" fill="#528777"/><line x1="224.8" y1="187.4" x2="224.8" y2="199.3" stroke="#934e45" stroke-width="0.55"/><rect x="224.10" y="188.9" width="1.5" height="9.2" fill="#934e45"/><line x1="226.8" y1="193.8" x2="226.8" y2="199.2" stroke="#528777" stroke-width="0.55"/><rect x="226.05" y="196.2" width="1.5" height="1.6" fill="#528777"/><line x1="228.7" y1="194.8" x2="228.7" y2="197.3" stroke="#528777" stroke-width="0.55"/><rect x="228.00" y="196.1" width="1.5" height="0.8" fill="#528777"/><line x1="230.7" y1="190.9" x2="230.7" y2="196.6" stroke="#528777" stroke-width="0.55"/><rect x="229.95" y="191.4" width="1.5" height="4.5" fill="#528777"/><line x1="232.6" y1="189.8" x2="232.6" y2="193.4" stroke="#934e45" stroke-width="0.55"/><rect x="231.90" y="191.8" width="1.5" height="0.8" fill="#934e45"/><line x1="234.6" y1="191.0" x2="234.6" y2="194.5" stroke="#934e45" stroke-width="0.55"/><rect x="233.85" y="192.1" width="1.5" height="2.1" fill="#934e45"/><line x1="236.5" y1="192.3" x2="236.5" y2="201.2" stroke="#934e45" stroke-width="0.55"/><rect x="235.80" y="193.8" width="1.5" height="5.8" fill="#934e45"/><line x1="238.5" y1="196.7" x2="238.5" y2="200.4" stroke="#528777" stroke-width="0.55"/><rect x="237.75" y="197.5" width="1.5" height="1.7" fill="#528777"/><line x1="240.4" y1="170.9" x2="240.4" y2="198.2" stroke="#528777" stroke-width="0.55"/><rect x="239.70" y="180.5" width="1.5" height="17.4" fill="#528777"/><line x1="242.4" y1="173.5" x2="242.4" y2="180.7" stroke="#528777" stroke-width="0.55"/><rect x="241.65" y="175.1" width="1.5" height="5.4" fill="#528777"/><line x1="244.3" y1="173.2" x2="244.3" y2="183.4" stroke="#934e45" stroke-width="0.55"/><rect x="243.60" y="175.5" width="1.5" height="5.4" fill="#934e45"/><line x1="246.3" y1="179.0" x2="246.3" y2="184.4" stroke="#934e45" stroke-width="0.55"/><rect x="245.55" y="180.5" width="1.5" height="2.1" fill="#934e45"/><line x1="248.2" y1="180.7" x2="248.2" y2="184.5" stroke="#934e45" stroke-width="0.55"/><rect x="247.50" y="182.8" width="1.5" height="0.8" fill="#934e45"/><line x1="250.2" y1="180.6" x2="250.2" y2="186.0" stroke="#528777" stroke-width="0.55"/><rect x="249.45" y="181.4" width="1.5" height="2.2" fill="#528777"/><line x1="252.1" y1="180.1" x2="252.1" y2="184.6" stroke="#934e45" stroke-width="0.55"/><rect x="251.40" y="180.9" width="1.5" height="2.0" fill="#934e45"/><line x1="254.1" y1="180.9" x2="254.1" y2="185.9" stroke="#934e45" stroke-width="0.55"/><rect x="253.35" y="182.4" width="1.5" height="1.9" fill="#934e45"/><line x1="256.0" y1="184.0" x2="256.0" y2="185.3" stroke="#528777" stroke-width="0.55"/><rect x="255.30" y="184.2" width="1.5" height="0.8" fill="#528777"/><line x1="258.0" y1="182.0" x2="258.0" y2="186.8" stroke="#934e45" stroke-width="0.55"/><rect x="257.25" y="184.4" width="1.5" height="1.1" fill="#934e45"/><line x1="259.9" y1="174.1" x2="259.9" y2="187.0" stroke="#528777" stroke-width="0.55"/><rect x="259.20" y="182.0" width="1.5" height="4.1" fill="#528777"/><line x1="261.9" y1="181.0" x2="261.9" y2="190.4" stroke="#934e45" stroke-width="0.55"/><rect x="261.15" y="181.9" width="1.5" height="6.8" fill="#934e45"/><line x1="263.8" y1="187.1" x2="263.8" y2="194.0" stroke="#934e45" stroke-width="0.55"/><rect x="263.10" y="188.1" width="1.5" height="4.7" fill="#934e45"/><line x1="265.8" y1="191.2" x2="265.8" y2="199.3" stroke="#934e45" stroke-width="0.55"/><rect x="265.05" y="193.2" width="1.5" height="4.7" fill="#934e45"/><line x1="267.7" y1="195.5" x2="267.7" y2="204.9" stroke="#934e45" stroke-width="0.55"/><rect x="267.00" y="197.7" width="1.5" height="6.5" fill="#934e45"/><line x1="269.7" y1="198.4" x2="269.7" y2="205.3" stroke="#528777" stroke-width="0.55"/><rect x="268.95" y="200.9" width="1.5" height="3.0" fill="#528777"/><line x1="271.6" y1="192.0" x2="271.6" y2="208.7" stroke="#528777" stroke-width="0.55"/><rect x="270.90" y="193.8" width="1.5" height="7.1" fill="#528777"/><line x1="273.6" y1="188.4" x2="273.6" y2="198.9" stroke="#934e45" stroke-width="0.55"/><rect x="272.85" y="194.3" width="1.5" height="4.2" fill="#934e45"/><line x1="275.5" y1="196.9" x2="275.5" y2="201.6" stroke="#528777" stroke-width="0.55"/><rect x="274.80" y="198.8" width="1.5" height="0.8" fill="#528777"/><line x1="277.5" y1="186.3" x2="277.5" y2="200.4" stroke="#528777" stroke-width="0.55"/><rect x="276.75" y="195.8" width="1.5" height="2.7" fill="#528777"/><line x1="279.4" y1="189.3" x2="279.4" y2="196.2" stroke="#528777" stroke-width="0.55"/><rect x="278.70" y="194.9" width="1.5" height="0.8" fill="#528777"/><line x1="281.4" y1="192.4" x2="281.4" y2="198.0" stroke="#528777" stroke-width="0.55"/><rect x="280.65" y="192.9" width="1.5" height="2.6" fill="#528777"/><line x1="283.3" y1="183.0" x2="283.3" y2="194.5" stroke="#528777" stroke-width="0.55"/><rect x="282.60" y="191.0" width="1.5" height="2.3" fill="#528777"/><line x1="285.3" y1="190.8" x2="285.3" y2="197.0" stroke="#934e45" stroke-width="0.55"/><rect x="284.55" y="191.5" width="1.5" height="4.5" fill="#934e45"/><line x1="287.2" y1="189.0" x2="287.2" y2="197.9" stroke="#528777" stroke-width="0.55"/><rect x="286.50" y="194.4" width="1.5" height="1.5" fill="#528777"/><line x1="289.2" y1="192.5" x2="289.2" y2="196.9" stroke="#528777" stroke-width="0.55"/><rect x="288.45" y="193.4" width="1.5" height="1.5" fill="#528777"/><line x1="291.1" y1="190.6" x2="291.1" y2="195.0" stroke="#934e45" stroke-width="0.55"/><rect x="290.40" y="193.1" width="1.5" height="0.8" fill="#934e45"/><line x1="293.1" y1="185.7" x2="293.1" y2="193.3" stroke="#528777" stroke-width="0.55"/><rect x="292.35" y="186.6" width="1.5" height="6.5" fill="#528777"/><line x1="295.0" y1="182.7" x2="295.0" y2="187.0" stroke="#528777" stroke-width="0.55"/><rect x="294.30" y="185.2" width="1.5" height="1.5" fill="#528777"/><line x1="297.0" y1="183.2" x2="297.0" y2="190.0" stroke="#934e45" stroke-width="0.55"/><rect x="296.25" y="185.7" width="1.5" height="3.2" fill="#934e45"/><line x1="298.9" y1="184.3" x2="298.9" y2="189.5" stroke="#528777" stroke-width="0.55"/><rect x="298.20" y="186.8" width="1.5" height="2.1" fill="#528777"/><line x1="300.9" y1="185.1" x2="300.9" y2="191.7" stroke="#934e45" stroke-width="0.55"/><rect x="300.15" y="187.1" width="1.5" height="2.9" fill="#934e45"/><line x1="302.8" y1="187.8" x2="302.8" y2="196.3" stroke="#934e45" stroke-width="0.55"/><rect x="302.10" y="189.8" width="1.5" height="6.1" fill="#934e45"/><line x1="304.8" y1="195.3" x2="304.8" y2="196.8" stroke="#934e45" stroke-width="0.55"/><rect x="304.05" y="195.6" width="1.5" height="0.9" fill="#934e45"/><line x1="306.7" y1="191.8" x2="306.7" y2="199.7" stroke="#528777" stroke-width="0.55"/><rect x="306.00" y="194.2" width="1.5" height="2.9" fill="#528777"/><line x1="308.7" y1="192.3" x2="308.7" y2="199.0" stroke="#934e45" stroke-width="0.55"/><rect x="307.95" y="193.7" width="1.5" height="3.4" fill="#934e45"/><line x1="310.6" y1="195.3" x2="310.6" y2="203.4" stroke="#934e45" stroke-width="0.55"/><rect x="309.90" y="197.0" width="1.5" height="4.5" fill="#934e45"/><line x1="312.6" y1="201.2" x2="312.6" y2="209.4" stroke="#934e45" stroke-width="0.55"/><rect x="311.85" y="201.7" width="1.5" height="5.4" fill="#934e45"/><line x1="314.5" y1="205.1" x2="314.5" y2="210.1" stroke="#934e45" stroke-width="0.55"/><rect x="313.80" y="207.0" width="1.5" height="2.4" fill="#934e45"/><line x1="316.5" y1="206.7" x2="316.5" y2="216.5" stroke="#934e45" stroke-width="0.55"/><rect x="315.75" y="209.1" width="1.5" height="5.8" fill="#934e45"/><line x1="318.4" y1="214.1" x2="318.4" y2="217.4" stroke="#934e45" stroke-width="0.55"/><rect x="317.70" y="215.5" width="1.5" height="1.2" fill="#934e45"/><line x1="320.4" y1="216.6" x2="320.4" y2="218.6" stroke="#528777" stroke-width="0.55"/><rect x="319.65" y="217.1" width="1.5" height="0.8" fill="#528777"/><line x1="322.3" y1="215.4" x2="322.3" y2="222.6" stroke="#528777" stroke-width="0.55"/><rect x="321.60" y="215.7" width="1.5" height="1.8" fill="#528777"/><line x1="324.3" y1="213.0" x2="324.3" y2="216.9" stroke="#528777" stroke-width="0.55"/><rect x="323.55" y="215.4" width="1.5" height="0.8" fill="#528777"/><line x1="326.2" y1="213.0" x2="326.2" y2="224.2" stroke="#528777" stroke-width="0.55"/><rect x="325.50" y="215.1" width="1.5" height="0.8" fill="#528777"/><line x1="328.2" y1="213.6" x2="328.2" y2="217.5" stroke="#934e45" stroke-width="0.55"/><rect x="327.45" y="214.7" width="1.5" height="2.2" fill="#934e45"/><line x1="330.1" y1="210.3" x2="330.1" y2="220.8" stroke="#934e45" stroke-width="0.55"/><rect x="329.40" y="217.0" width="1.5" height="3.1" fill="#934e45"/><line x1="332.1" y1="218.8" x2="332.1" y2="230.1" stroke="#934e45" stroke-width="0.55"/><rect x="331.35" y="219.7" width="1.5" height="9.6" fill="#934e45"/><line x1="334.0" y1="228.4" x2="334.0" y2="232.1" stroke="#934e45" stroke-width="0.55"/><rect x="333.30" y="228.9" width="1.5" height="2.1" fill="#934e45"/><line x1="336.0" y1="229.9" x2="336.0" y2="233.5" stroke="#934e45" stroke-width="0.55"/><rect x="335.25" y="230.5" width="1.5" height="1.1" fill="#934e45"/><line x1="337.9" y1="228.3" x2="337.9" y2="232.4" stroke="#528777" stroke-width="0.55"/><rect x="337.20" y="230.8" width="1.5" height="0.8" fill="#528777"/><line x1="339.9" y1="228.4" x2="339.9" y2="234.6" stroke="#934e45" stroke-width="0.55"/><rect x="339.15" y="230.7" width="1.5" height="1.3" fill="#934e45"/><line x1="341.8" y1="228.5" x2="341.8" y2="232.4" stroke="#528777" stroke-width="0.55"/><rect x="341.10" y="229.2" width="1.5" height="3.1" fill="#528777"/><line x1="343.8" y1="221.1" x2="343.8" y2="231.9" stroke="#528777" stroke-width="0.55"/><rect x="343.05" y="222.2" width="1.5" height="7.3" fill="#528777"/><line x1="345.7" y1="220.1" x2="345.7" y2="223.8" stroke="#934e45" stroke-width="0.55"/><rect x="345.00" y="221.6" width="1.5" height="0.8" fill="#934e45"/><line x1="347.7" y1="221.1" x2="347.7" y2="229.2" stroke="#934e45" stroke-width="0.55"/><rect x="346.95" y="222.2" width="1.5" height="0.9" fill="#934e45"/><line x1="349.6" y1="223.1" x2="349.6" y2="227.2" stroke="#934e45" stroke-width="0.55"/><rect x="348.90" y="223.6" width="1.5" height="2.3" fill="#934e45"/><line x1="351.6" y1="225.0" x2="351.6" y2="232.4" stroke="#934e45" stroke-width="0.55"/><rect x="350.85" y="225.5" width="1.5" height="4.4" fill="#934e45"/><line x1="353.5" y1="226.9" x2="353.5" y2="236.7" stroke="#934e45" stroke-width="0.55"/><rect x="352.80" y="229.4" width="1.5" height="6.2" fill="#934e45"/><line x1="355.5" y1="235.4" x2="355.5" y2="244.7" stroke="#934e45" stroke-width="0.55"/><rect x="354.75" y="236.0" width="1.5" height="6.6" fill="#934e45"/><line x1="357.4" y1="240.2" x2="357.4" y2="243.7" stroke="#528777" stroke-width="0.55"/><rect x="356.70" y="242.3" width="1.5" height="0.8" fill="#528777"/><line x1="359.4" y1="241.2" x2="359.4" y2="242.9" stroke="#528777" stroke-width="0.55"/><rect x="358.65" y="242.3" width="1.5" height="0.8" fill="#528777"/><line x1="361.3" y1="242.5" x2="361.3" y2="245.9" stroke="#934e45" stroke-width="0.55"/><rect x="360.60" y="242.8" width="1.5" height="1.6" fill="#934e45"/><line x1="363.3" y1="242.4" x2="363.3" y2="246.4" stroke="#528777" stroke-width="0.55"/><rect x="362.55" y="242.9" width="1.5" height="1.9" fill="#528777"/><line x1="365.2" y1="241.4" x2="365.2" y2="246.8" stroke="#934e45" stroke-width="0.55"/><rect x="364.50" y="242.6" width="1.5" height="2.6" fill="#934e45"/><line x1="367.2" y1="241.3" x2="367.2" y2="245.4" stroke="#528777" stroke-width="0.55"/><rect x="366.45" y="242.5" width="1.5" height="2.7" fill="#528777"/><line x1="369.1" y1="236.0" x2="369.1" y2="244.3" stroke="#528777" stroke-width="0.55"/><rect x="368.40" y="238.0" width="1.5" height="4.2" fill="#528777"/><line x1="371.1" y1="236.3" x2="371.1" y2="238.5" stroke="#528777" stroke-width="0.55"/><rect x="370.35" y="236.7" width="1.5" height="1.3" fill="#528777"/><line x1="373.0" y1="234.7" x2="373.0" y2="236.9" stroke="#528777" stroke-width="0.55"/><rect x="372.30" y="236.1" width="1.5" height="0.8" fill="#528777"/><line x1="375.0" y1="224.5" x2="375.0" y2="237.8" stroke="#528777" stroke-width="0.55"/><rect x="374.25" y="232.6" width="1.5" height="3.8" fill="#528777"/><line x1="376.9" y1="223.9" x2="376.9" y2="235.4" stroke="#528777" stroke-width="0.55"/><rect x="376.20" y="224.4" width="1.5" height="8.7" fill="#528777"/><line x1="378.9" y1="221.1" x2="378.9" y2="227.4" stroke="#528777" stroke-width="0.55"/><rect x="378.15" y="221.7" width="1.5" height="3.1" fill="#528777"/><line x1="380.8" y1="220.3" x2="380.8" y2="224.3" stroke="#528777" stroke-width="0.55"/><rect x="380.10" y="220.9" width="1.5" height="1.4" fill="#528777"/><line x1="382.8" y1="216.0" x2="382.8" y2="221.3" stroke="#528777" stroke-width="0.55"/><rect x="382.05" y="218.0" width="1.5" height="2.7" fill="#528777"/><line x1="384.7" y1="213.5" x2="384.7" y2="219.8" stroke="#528777" stroke-width="0.55"/><rect x="384.00" y="214.1" width="1.5" height="4.3" fill="#528777"/><line x1="386.7" y1="204.1" x2="386.7" y2="214.8" stroke="#528777" stroke-width="0.55"/><rect x="385.95" y="209.6" width="1.5" height="4.2" fill="#528777"/><line x1="388.6" y1="208.3" x2="388.6" y2="219.5" stroke="#934e45" stroke-width="0.55"/><rect x="387.90" y="210.2" width="1.5" height="7.0" fill="#934e45"/><line x1="390.6" y1="215.2" x2="390.6" y2="224.6" stroke="#934e45" stroke-width="0.55"/><rect x="389.85" y="216.7" width="1.5" height="6.2" fill="#934e45"/><line x1="392.5" y1="221.4" x2="392.5" y2="235.7" stroke="#934e45" stroke-width="0.55"/><rect x="391.80" y="223.0" width="1.5" height="1.5" fill="#934e45"/><line x1="394.5" y1="219.7" x2="394.5" y2="225.2" stroke="#528777" stroke-width="0.55"/><rect x="393.75" y="221.8" width="1.5" height="2.5" fill="#528777"/><line x1="396.4" y1="216.2" x2="396.4" y2="222.9" stroke="#528777" stroke-width="0.55"/><rect x="395.70" y="218.3" width="1.5" height="3.3" fill="#528777"/><line x1="398.4" y1="212.0" x2="398.4" y2="218.5" stroke="#528777" stroke-width="0.55"/><rect x="397.65" y="214.2" width="1.5" height="3.5" fill="#528777"/><line x1="400.3" y1="206.1" x2="400.3" y2="215.3" stroke="#528777" stroke-width="0.55"/><rect x="399.60" y="211.0" width="1.5" height="3.3" fill="#528777"/><line x1="402.3" y1="196.8" x2="402.3" y2="212.6" stroke="#528777" stroke-width="0.55"/><rect x="401.55" y="198.0" width="1.5" height="13.1" fill="#528777"/><line x1="404.2" y1="190.3" x2="404.2" y2="198.0" stroke="#528777" stroke-width="0.55"/><rect x="403.50" y="197.2" width="1.5" height="0.8" fill="#528777"/><line x1="406.2" y1="195.7" x2="406.2" y2="198.6" stroke="#528777" stroke-width="0.55"/><rect x="405.45" y="196.5" width="1.5" height="0.8" fill="#528777"/><line x1="408.1" y1="191.5" x2="408.1" y2="197.1" stroke="#528777" stroke-width="0.55"/><rect x="407.40" y="192.8" width="1.5" height="3.8" fill="#528777"/><line x1="410.1" y1="189.1" x2="410.1" y2="194.1" stroke="#528777" stroke-width="0.55"/><rect x="409.35" y="189.6" width="1.5" height="2.8" fill="#528777"/><line x1="412.0" y1="188.6" x2="412.0" y2="197.4" stroke="#934e45" stroke-width="0.55"/><rect x="411.30" y="189.5" width="1.5" height="7.7" fill="#934e45"/><line x1="414.0" y1="195.2" x2="414.0" y2="200.7" stroke="#934e45" stroke-width="0.55"/><rect x="413.25" y="197.0" width="1.5" height="2.4" fill="#934e45"/><line x1="415.9" y1="196.7" x2="415.9" y2="200.6" stroke="#934e45" stroke-width="0.55"/><rect x="415.20" y="199.1" width="1.5" height="1.1" fill="#934e45"/><line x1="417.9" y1="192.9" x2="417.9" y2="202.0" stroke="#528777" stroke-width="0.55"/><rect x="417.15" y="199.6" width="1.5" height="0.8" fill="#528777"/><line x1="419.8" y1="198.5" x2="419.8" y2="204.2" stroke="#934e45" stroke-width="0.55"/><rect x="419.10" y="199.2" width="1.5" height="3.4" fill="#934e45"/><line x1="421.8" y1="202.3" x2="421.8" y2="206.3" stroke="#934e45" stroke-width="0.55"/><rect x="421.05" y="203.0" width="1.5" height="2.4" fill="#934e45"/><line x1="423.7" y1="195.7" x2="423.7" y2="211.4" stroke="#934e45" stroke-width="0.55"/><rect x="423.00" y="205.8" width="1.5" height="3.7" fill="#934e45"/><line x1="425.7" y1="207.4" x2="425.7" y2="211.1" stroke="#934e45" stroke-width="0.55"/><rect x="424.95" y="209.4" width="1.5" height="0.8" fill="#934e45"/><line x1="427.6" y1="202.5" x2="427.6" y2="210.5" stroke="#528777" stroke-width="0.55"/><rect x="426.90" y="202.8" width="1.5" height="6.6" fill="#528777"/><line x1="429.6" y1="190.4" x2="429.6" y2="204.1" stroke="#528777" stroke-width="0.55"/><rect x="428.85" y="192.4" width="1.5" height="10.9" fill="#528777"/><line x1="431.5" y1="188.7" x2="431.5" y2="193.5" stroke="#528777" stroke-width="0.55"/><rect x="430.80" y="190.2" width="1.5" height="2.5" fill="#528777"/><line x1="433.5" y1="184.8" x2="433.5" y2="190.1" stroke="#528777" stroke-width="0.55"/><rect x="432.75" y="187.1" width="1.5" height="2.8" fill="#528777"/><line x1="435.4" y1="177.9" x2="435.4" y2="189.4" stroke="#528777" stroke-width="0.55"/><rect x="434.70" y="180.3" width="1.5" height="7.1" fill="#528777"/><line x1="437.4" y1="179.3" x2="437.4" y2="184.9" stroke="#934e45" stroke-width="0.55"/><rect x="436.65" y="180.1" width="1.5" height="2.4" fill="#934e45"/><line x1="439.3" y1="180.2" x2="439.3" y2="185.7" stroke="#934e45" stroke-width="0.55"/><rect x="438.60" y="182.7" width="1.5" height="1.7" fill="#934e45"/><line x1="441.3" y1="183.2" x2="441.3" y2="186.8" stroke="#528777" stroke-width="0.55"/><rect x="440.55" y="184.4" width="1.5" height="0.8" fill="#528777"/><line x1="443.2" y1="179.5" x2="443.2" y2="184.5" stroke="#528777" stroke-width="0.55"/><rect x="442.50" y="181.2" width="1.5" height="2.9" fill="#528777"/><line x1="445.2" y1="179.4" x2="445.2" y2="183.1" stroke="#528777" stroke-width="0.55"/><rect x="444.45" y="179.8" width="1.5" height="0.8" fill="#528777"/><line x1="447.1" y1="179.0" x2="447.1" y2="187.0" stroke="#934e45" stroke-width="0.55"/><rect x="446.40" y="179.3" width="1.5" height="5.8" fill="#934e45"/><line x1="449.1" y1="185.0" x2="449.1" y2="193.0" stroke="#934e45" stroke-width="0.55"/><rect x="448.35" y="185.4" width="1.5" height="6.0" fill="#934e45"/><line x1="451.0" y1="186.7" x2="451.0" y2="192.1" stroke="#528777" stroke-width="0.55"/><rect x="450.30" y="189.1" width="1.5" height="2.7" fill="#528777"/><line x1="453.0" y1="187.1" x2="453.0" y2="193.5" stroke="#528777" stroke-width="0.55"/><rect x="452.25" y="187.6" width="1.5" height="2.1" fill="#528777"/><line x1="454.9" y1="185.0" x2="454.9" y2="190.1" stroke="#528777" stroke-width="0.55"/><rect x="454.20" y="186.7" width="1.5" height="1.2" fill="#528777"/><line x1="456.9" y1="185.7" x2="456.9" y2="188.2" stroke="#528777" stroke-width="0.55"/><rect x="456.15" y="186.1" width="1.5" height="0.8" fill="#528777"/><line x1="458.8" y1="185.8" x2="458.8" y2="188.9" stroke="#934e45" stroke-width="0.55"/><rect x="458.10" y="186.0" width="1.5" height="2.1" fill="#934e45"/><line x1="460.8" y1="187.0" x2="460.8" y2="191.3" stroke="#934e45" stroke-width="0.55"/><rect x="460.05" y="187.9" width="1.5" height="0.8" fill="#934e45"/><line x1="462.7" y1="188.3" x2="462.7" y2="190.1" stroke="#528777" stroke-width="0.55"/><rect x="462.00" y="188.6" width="1.5" height="0.8" fill="#528777"/><line x1="464.7" y1="186.1" x2="464.7" y2="189.9" stroke="#528777" stroke-width="0.55"/><rect x="463.95" y="188.0" width="1.5" height="0.8" fill="#528777"/><line x1="466.6" y1="181.1" x2="466.6" y2="188.5" stroke="#934e45" stroke-width="0.55"/><rect x="465.90" y="187.5" width="1.5" height="0.8" fill="#934e45"/><line x1="468.6" y1="184.0" x2="468.6" y2="189.8" stroke="#528777" stroke-width="0.55"/><rect x="467.85" y="184.2" width="1.5" height="4.3" fill="#528777"/><line x1="470.5" y1="178.1" x2="470.5" y2="184.8" stroke="#528777" stroke-width="0.55"/><rect x="469.80" y="179.5" width="1.5" height="4.3" fill="#528777"/><line x1="472.5" y1="176.2" x2="472.5" y2="180.8" stroke="#528777" stroke-width="0.55"/><rect x="471.75" y="177.1" width="1.5" height="2.9" fill="#528777"/><line x1="474.4" y1="170.7" x2="474.4" y2="177.0" stroke="#528777" stroke-width="0.55"/><rect x="473.70" y="172.4" width="1.5" height="4.2" fill="#528777"/><line x1="476.4" y1="166.3" x2="476.4" y2="173.8" stroke="#528777" stroke-width="0.55"/><rect x="475.65" y="168.0" width="1.5" height="4.7" fill="#528777"/><line x1="478.3" y1="161.8" x2="478.3" y2="170.8" stroke="#528777" stroke-width="0.55"/><rect x="477.60" y="166.4" width="1.5" height="2.1" fill="#528777"/><line x1="480.3" y1="165.2" x2="480.3" y2="168.0" stroke="#528777" stroke-width="0.55"/><rect x="479.55" y="166.6" width="1.5" height="0.8" fill="#528777"/><line x1="482.2" y1="165.1" x2="482.2" y2="169.5" stroke="#934e45" stroke-width="0.55"/><rect x="481.50" y="166.5" width="1.5" height="0.9" fill="#934e45"/><line x1="484.2" y1="166.3" x2="484.2" y2="168.9" stroke="#934e45" stroke-width="0.55"/><rect x="483.45" y="167.3" width="1.5" height="1.0" fill="#934e45"/><line x1="486.1" y1="165.8" x2="486.1" y2="169.8" stroke="#528777" stroke-width="0.55"/><rect x="485.40" y="166.5" width="1.5" height="2.1" fill="#528777"/><line x1="488.1" y1="163.7" x2="488.1" y2="168.3" stroke="#528777" stroke-width="0.55"/><rect x="487.35" y="165.0" width="1.5" height="1.0" fill="#528777"/><line x1="490.0" y1="160.8" x2="490.0" y2="170.9" stroke="#528777" stroke-width="0.55"/><rect x="489.30" y="162.7" width="1.5" height="2.0" fill="#528777"/><line x1="492.0" y1="159.4" x2="492.0" y2="163.1" stroke="#528777" stroke-width="0.55"/><rect x="491.25" y="160.9" width="1.5" height="1.6" fill="#528777"/><line x1="493.9" y1="149.8" x2="493.9" y2="161.9" stroke="#528777" stroke-width="0.55"/><rect x="493.20" y="151.7" width="1.5" height="9.7" fill="#528777"/><line x1="495.9" y1="132.8" x2="495.9" y2="153.7" stroke="#528777" stroke-width="0.55"/><rect x="495.15" y="135.3" width="1.5" height="16.3" fill="#528777"/><line x1="497.8" y1="128.1" x2="497.8" y2="135.4" stroke="#528777" stroke-width="0.55"/><rect x="497.10" y="129.8" width="1.5" height="5.1" fill="#528777"/><line x1="499.8" y1="128.1" x2="499.8" y2="132.6" stroke="#934e45" stroke-width="0.55"/><rect x="499.05" y="129.3" width="1.5" height="1.3" fill="#934e45"/><line x1="501.7" y1="129.4" x2="501.7" y2="135.9" stroke="#934e45" stroke-width="0.55"/><rect x="501.00" y="130.7" width="1.5" height="4.7" fill="#934e45"/><line x1="503.7" y1="133.3" x2="503.7" y2="139.3" stroke="#934e45" stroke-width="0.55"/><rect x="502.95" y="135.7" width="1.5" height="2.4" fill="#934e45"/><line x1="505.6" y1="134.3" x2="505.6" y2="139.9" stroke="#528777" stroke-width="0.55"/><rect x="504.90" y="135.0" width="1.5" height="3.0" fill="#528777"/><line x1="507.6" y1="129.4" x2="507.6" y2="137.1" stroke="#528777" stroke-width="0.55"/><rect x="506.85" y="131.7" width="1.5" height="3.6" fill="#528777"/><line x1="509.5" y1="129.7" x2="509.5" y2="132.8" stroke="#934e45" stroke-width="0.55"/><rect x="508.80" y="131.5" width="1.5" height="0.9" fill="#934e45"/><line x1="511.5" y1="130.9" x2="511.5" y2="136.1" stroke="#934e45" stroke-width="0.55"/><rect x="510.75" y="132.6" width="1.5" height="2.7" fill="#934e45"/><line x1="513.4" y1="134.3" x2="513.4" y2="138.1" stroke="#934e45" stroke-width="0.55"/><rect x="512.70" y="135.5" width="1.5" height="0.8" fill="#934e45"/><line x1="515.4" y1="134.4" x2="515.4" y2="139.1" stroke="#934e45" stroke-width="0.55"/><rect x="514.65" y="136.5" width="1.5" height="1.5" fill="#934e45"/><line x1="517.3" y1="135.9" x2="517.3" y2="143.1" stroke="#934e45" stroke-width="0.55"/><rect x="516.60" y="137.4" width="1.5" height="5.1" fill="#934e45"/><line x1="519.3" y1="142.1" x2="519.3" y2="144.7" stroke="#934e45" stroke-width="0.55"/><rect x="518.55" y="142.6" width="1.5" height="0.8" fill="#934e45"/><line x1="521.2" y1="136.8" x2="521.2" y2="145.3" stroke="#528777" stroke-width="0.55"/><rect x="520.50" y="138.5" width="1.5" height="4.6" fill="#528777"/><line x1="523.2" y1="136.1" x2="523.2" y2="140.9" stroke="#528777" stroke-width="0.55"/><rect x="522.45" y="136.8" width="1.5" height="2.3" fill="#528777"/><line x1="525.1" y1="127.6" x2="525.1" y2="137.4" stroke="#528777" stroke-width="0.55"/><rect x="524.40" y="134.8" width="1.5" height="1.5" fill="#528777"/><line x1="527.1" y1="131.6" x2="527.1" y2="135.4" stroke="#528777" stroke-width="0.55"/><rect x="526.35" y="132.9" width="1.5" height="1.3" fill="#528777"/><line x1="529.0" y1="131.8" x2="529.0" y2="149.5" stroke="#934e45" stroke-width="0.55"/><rect x="528.30" y="132.6" width="1.5" height="15.0" fill="#934e45"/><line x1="531.0" y1="100.9" x2="531.0" y2="148.4" stroke="#528777" stroke-width="0.55"/><rect x="530.25" y="103.0" width="1.5" height="44.2" fill="#528777"/><line x1="532.9" y1="87.6" x2="532.9" y2="105.0" stroke="#528777" stroke-width="0.55"/><rect x="532.20" y="89.7" width="1.5" height="13.6" fill="#528777"/><line x1="534.9" y1="86.9" x2="534.9" y2="93.1" stroke="#934e45" stroke-width="0.55"/><rect x="534.15" y="89.4" width="1.5" height="2.6" fill="#934e45"/><line x1="536.8" y1="91.1" x2="536.8" y2="109.3" stroke="#934e45" stroke-width="0.55"/><rect x="536.10" y="92.4" width="1.5" height="16.0" fill="#934e45"/><line x1="538.8" y1="107.8" x2="538.8" y2="134.2" stroke="#934e45" stroke-width="0.55"/><rect x="538.05" y="108.8" width="1.5" height="23.2" fill="#934e45"/><line x1="540.7" y1="123.1" x2="540.7" y2="151.3" stroke="#934e45" stroke-width="0.55"/><rect x="540.00" y="131.7" width="1.5" height="19.0" fill="#934e45"/><line x1="542.7" y1="142.4" x2="542.7" y2="151.7" stroke="#528777" stroke-width="0.55"/><rect x="541.95" y="143.3" width="1.5" height="7.0" fill="#528777"/><line x1="544.6" y1="142.5" x2="544.6" y2="146.4" stroke="#934e45" stroke-width="0.55"/><rect x="543.90" y="143.5" width="1.5" height="0.8" fill="#934e45"/><line x1="546.6" y1="141.0" x2="546.6" y2="154.5" stroke="#528777" stroke-width="0.55"/><rect x="545.85" y="143.4" width="1.5" height="1.0" fill="#528777"/><line x1="548.5" y1="142.6" x2="548.5" y2="149.0" stroke="#934e45" stroke-width="0.55"/><rect x="547.80" y="142.8" width="1.5" height="3.7" fill="#934e45"/><line x1="550.5" y1="145.5" x2="550.5" y2="149.5" stroke="#934e45" stroke-width="0.55"/><rect x="549.75" y="146.1" width="1.5" height="2.7" fill="#934e45"/><line x1="552.4" y1="146.0" x2="552.4" y2="156.3" stroke="#934e45" stroke-width="0.55"/><rect x="551.70" y="148.4" width="1.5" height="5.8" fill="#934e45"/><line x1="554.4" y1="152.3" x2="554.4" y2="163.8" stroke="#934e45" stroke-width="0.55"/><rect x="553.65" y="154.3" width="1.5" height="7.7" fill="#934e45"/><line x1="556.3" y1="159.4" x2="556.3" y2="164.3" stroke="#528777" stroke-width="0.55"/><rect x="555.60" y="160.0" width="1.5" height="2.4" fill="#528777"/><line x1="558.3" y1="155.2" x2="558.3" y2="161.5" stroke="#528777" stroke-width="0.55"/><rect x="557.55" y="157.5" width="1.5" height="2.5" fill="#528777"/><line x1="560.2" y1="152.5" x2="560.2" y2="157.4" stroke="#528777" stroke-width="0.55"/><rect x="559.50" y="153.9" width="1.5" height="3.1" fill="#528777"/><line x1="562.2" y1="150.9" x2="562.2" y2="155.4" stroke="#528777" stroke-width="0.55"/><rect x="561.45" y="152.3" width="1.5" height="1.6" fill="#528777"/><line x1="564.1" y1="149.6" x2="564.1" y2="154.3" stroke="#528777" stroke-width="0.55"/><rect x="563.40" y="150.9" width="1.5" height="1.8" fill="#528777"/><line x1="566.1" y1="142.7" x2="566.1" y2="155.3" stroke="#934e45" stroke-width="0.55"/><rect x="565.35" y="150.7" width="1.5" height="2.1" fill="#934e45"/><line x1="568.0" y1="150.0" x2="568.0" y2="154.1" stroke="#528777" stroke-width="0.55"/><rect x="567.30" y="151.7" width="1.5" height="0.8" fill="#528777"/><line x1="570.0" y1="148.0" x2="570.0" y2="153.6" stroke="#528777" stroke-width="0.55"/><rect x="569.25" y="149.4" width="1.5" height="2.8" fill="#528777"/><line x1="571.9" y1="144.1" x2="571.9" y2="150.7" stroke="#528777" stroke-width="0.55"/><rect x="571.20" y="145.8" width="1.5" height="3.9" fill="#528777"/><line x1="573.9" y1="143.8" x2="573.9" y2="147.8" stroke="#528777" stroke-width="0.55"/><rect x="573.15" y="145.3" width="1.5" height="0.8" fill="#528777"/><line x1="575.8" y1="143.1" x2="575.8" y2="147.4" stroke="#528777" stroke-width="0.55"/><rect x="575.10" y="144.7" width="1.5" height="0.8" fill="#528777"/><line x1="577.8" y1="143.1" x2="577.8" y2="148.8" stroke="#934e45" stroke-width="0.55"/><rect x="577.05" y="144.5" width="1.5" height="3.4" fill="#934e45"/><line x1="579.7" y1="146.0" x2="579.7" y2="151.0" stroke="#934e45" stroke-width="0.55"/><rect x="579.00" y="148.1" width="1.5" height="1.9" fill="#934e45"/><line x1="581.7" y1="140.1" x2="581.7" y2="152.2" stroke="#528777" stroke-width="0.55"/><rect x="580.95" y="149.2" width="1.5" height="0.9" fill="#528777"/><line x1="583.6" y1="144.8" x2="583.6" y2="153.8" stroke="#934e45" stroke-width="0.55"/><rect x="582.90" y="149.2" width="1.5" height="3.7" fill="#934e45"/><line x1="585.6" y1="151.3" x2="585.6" y2="159.4" stroke="#934e45" stroke-width="0.55"/><rect x="584.85" y="153.1" width="1.5" height="4.3" fill="#934e45"/><line x1="587.5" y1="155.8" x2="587.5" y2="174.2" stroke="#934e45" stroke-width="0.55"/><rect x="586.80" y="157.5" width="1.5" height="14.8" fill="#934e45"/><line x1="589.5" y1="170.2" x2="589.5" y2="181.4" stroke="#934e45" stroke-width="0.55"/><rect x="588.75" y="172.0" width="1.5" height="8.2" fill="#934e45"/><line x1="591.4" y1="174.7" x2="591.4" y2="181.8" stroke="#528777" stroke-width="0.55"/><rect x="590.70" y="175.0" width="1.5" height="4.8" fill="#528777"/><line x1="593.4" y1="172.6" x2="593.4" y2="182.2" stroke="#934e45" stroke-width="0.55"/><rect x="592.65" y="174.8" width="1.5" height="5.3" fill="#934e45"/><line x1="595.3" y1="178.6" x2="595.3" y2="183.1" stroke="#934e45" stroke-width="0.55"/><rect x="594.60" y="179.9" width="1.5" height="2.3" fill="#934e45"/><line x1="597.3" y1="178.6" x2="597.3" y2="188.2" stroke="#934e45" stroke-width="0.55"/><rect x="596.55" y="182.6" width="1.5" height="4.0" fill="#934e45"/><line x1="599.2" y1="179.0" x2="599.2" y2="195.8" stroke="#934e45" stroke-width="0.55"/><rect x="598.50" y="186.7" width="1.5" height="7.8" fill="#934e45"/><line x1="601.2" y1="192.5" x2="601.2" y2="203.3" stroke="#934e45" stroke-width="0.55"/><rect x="600.45" y="195.0" width="1.5" height="7.0" fill="#934e45"/><line x1="603.1" y1="191.7" x2="603.1" y2="202.7" stroke="#528777" stroke-width="0.55"/><rect x="602.40" y="195.4" width="1.5" height="6.8" fill="#528777"/><line x1="605.1" y1="192.4" x2="605.1" y2="196.4" stroke="#934e45" stroke-width="0.55"/><rect x="604.35" y="194.9" width="1.5" height="1.1" fill="#934e45"/><line x1="607.1" y1="191.0" x2="607.1" y2="196.2" stroke="#528777" stroke-width="0.55"/><rect x="606.30" y="192.9" width="1.5" height="2.5" fill="#528777"/><line x1="609.0" y1="189.7" x2="609.0" y2="194.3" stroke="#528777" stroke-width="0.55"/><rect x="608.25" y="191.8" width="1.5" height="0.8" fill="#528777"/><line x1="611.0" y1="189.6" x2="611.0" y2="204.2" stroke="#934e45" stroke-width="0.55"/><rect x="610.20" y="191.3" width="1.5" height="11.0" fill="#934e45"/><line x1="612.9" y1="196.4" x2="612.9" y2="205.5" stroke="#934e45" stroke-width="0.55"/><rect x="612.15" y="202.0" width="1.5" height="1.6" fill="#934e45"/><line x1="614.9" y1="202.1" x2="614.9" y2="204.9" stroke="#528777" stroke-width="0.55"/><rect x="614.10" y="202.5" width="1.5" height="1.5" fill="#528777"/><line x1="616.8" y1="198.9" x2="616.8" y2="203.3" stroke="#528777" stroke-width="0.55"/><rect x="616.05" y="200.2" width="1.5" height="2.7" fill="#528777"/><line x1="618.8" y1="198.3" x2="618.8" y2="201.0" stroke="#934e45" stroke-width="0.55"/><rect x="618.00" y="200.2" width="1.5" height="0.8" fill="#934e45"/><line x1="620.7" y1="196.9" x2="620.7" y2="201.8" stroke="#528777" stroke-width="0.55"/><rect x="619.95" y="198.6" width="1.5" height="2.0" fill="#528777"/></g><rect x="0" y="313" width="1.7" height="10" fill="#5c9384"/><rect x="3.9" y="312.5" width="1.5" height="23" fill="#a2554f"/><g fill="#ff0505" fill-opacity="0.96"><rect x="169.9" y="193.9" width="29.1" height="9.1"/><rect x="241.7" y="170" width="56.9" height="9.8"/></g><line x1="179.2" y1="183" x2="179.2" y2="194" stroke="#999" stroke-width="0.7"/><line x1="533.7" y1="24" x2="533.7" y2="90" stroke="#a8a8a8" stroke-width="0.8"/><polyline points="553.6,163.1 573.9,138.8 618.9,208.5 636.2,169.7 678.2,257" fill="none" stroke="#1f3f94" stroke-width="1.6" stroke-linejoin="miter"/><polyline points="667.1,254 678.2,257.2 680.6,246.8" fill="none" stroke="#1f3f94" stroke-width="1.4"/><path d="M634.4,157.5 H638.2 V162 H640.7 L636.3,168 L631.9,162 H634.4 Z" fill="#e8344a"/><path d="M668,120.1 L674,126.1 M674,120.1 L668,126.1" stroke="#d81e2c" stroke-width="2"/><path d="M685.2,120.7 L678.5,128.2 L689.0,120.7" fill="#fff" stroke="#5fd466" stroke-width="1.1" stroke-linejoin="miter"/><rect x="683.6" y="109.2" width="40.9" height="11.4" rx="2" fill="#fff" stroke="#5fd466" stroke-width="1.25"/><rect x="684.9" y="119.8" width="5" height="1.6" fill="#fff"/><text x="689.2" y="116.5" font-size="7.2" font-weight="bold" fill="#44c24e" stroke="#44c24e" stroke-width="0.08" textLength="30" lengthAdjust="spacingAndGlyphs">2050.033</text><path d="M685.2,162.5 L678.5,170.3 L689.0,162.5" fill="#fff" stroke="#d24a5a" stroke-width="1.1" stroke-linejoin="miter"/><rect x="683.6" y="151.4" width="40.9" height="11.0" rx="2" fill="#fff" stroke="#d24a5a" stroke-width="1.25"/><rect x="684.9" y="161.6" width="5" height="1.6" fill="#fff"/><text x="689.2" y="158.7" font-size="7.2" font-weight="bold" fill="#c63d4d" stroke="#c63d4d" stroke-width="0.08" textLength="30" lengthAdjust="spacingAndGlyphs">2009.958</text><path d="M685.2,223.0 L678.5,230.6 L689.0,223.0" fill="#fff" stroke="#2a2a2a" stroke-width="1.1" stroke-linejoin="miter"/><rect x="683.6" y="211.8" width="40.9" height="11.1" rx="2" fill="#fff" stroke="#2a2a2a" stroke-width="1.25"/><rect x="684.9" y="222.1" width="5" height="1.6" fill="#fff"/><text x="689.2" y="219.1" font-size="7.2" font-weight="bold" fill="#1e1e1e" stroke="#1e1e1e" stroke-width="0.08" textLength="30" lengthAdjust="spacingAndGlyphs">1952.396</text><path d="M685.2,262.0 L678.5,269.9 L689.0,262.0" fill="#fff" stroke="#2a2a2a" stroke-width="1.1" stroke-linejoin="miter"/><rect x="683.6" y="251.1" width="40.9" height="10.8" rx="2" fill="#fff" stroke="#2a2a2a" stroke-width="1.25"/><rect x="684.9" y="261.1" width="5" height="1.6" fill="#fff"/><text x="689.2" y="258.4" font-size="7.2" font-weight="bold" fill="#1e1e1e" stroke="#1e1e1e" stroke-width="0.08" textLength="30" lengthAdjust="spacingAndGlyphs">1914.902</text><line x1="0" y1="391.3" x2="758" y2="391.3" stroke="#ababab" stroke-width="1"/><line x1="725.5" y1="0" x2="725.5" y2="404.5" stroke="#a4a4a4" stroke-width="1"/><text x="729.6" y="36.0" font-size="6.7" fill="#4a4a4a" stroke="#4a4a4a" stroke-width="0.1" textLength="24.2" lengthAdjust="spacingAndGlyphs">2140.000</text><text x="729.6" y="57.0" font-size="6.7" fill="#4a4a4a" stroke="#4a4a4a" stroke-width="0.1" textLength="24.2" lengthAdjust="spacingAndGlyphs">2120.000</text><text x="729.6" y="78.0" font-size="6.7" fill="#4a4a4a" stroke="#4a4a4a" stroke-width="0.1" textLength="24.2" lengthAdjust="spacingAndGlyphs">2100.000</text><text x="729.6" y="99.0" font-size="6.7" fill="#4a4a4a" stroke="#4a4a4a" stroke-width="0.1" textLength="24.2" lengthAdjust="spacingAndGlyphs">2080.000</text><text x="729.6" y="120.0" font-size="6.7" fill="#4a4a4a" stroke="#4a4a4a" stroke-width="0.1" textLength="24.2" lengthAdjust="spacingAndGlyphs">2060.000</text><text x="729.6" y="140.9" font-size="6.7" fill="#4a4a4a" stroke="#4a4a4a" stroke-width="0.1" textLength="24.2" lengthAdjust="spacingAndGlyphs">2040.000</text><text x="729.6" y="161.9" font-size="6.7" fill="#4a4a4a" stroke="#4a4a4a" stroke-width="0.1" textLength="24.2" lengthAdjust="spacingAndGlyphs">2020.000</text><text x="729.6" y="182.9" font-size="6.7" fill="#4a4a4a" stroke="#4a4a4a" stroke-width="0.1" textLength="24.2" lengthAdjust="spacingAndGlyphs">2000.000</text><text x="729.6" y="224.9" font-size="6.7" fill="#4a4a4a" stroke="#4a4a4a" stroke-width="0.1" textLength="24.2" lengthAdjust="spacingAndGlyphs">1960.000</text><text x="729.6" y="245.8" font-size="6.7" fill="#4a4a4a" stroke="#4a4a4a" stroke-width="0.1" textLength="24.2" lengthAdjust="spacingAndGlyphs">1940.000</text><text x="729.6" y="266.8" font-size="6.7" fill="#4a4a4a" stroke="#4a4a4a" stroke-width="0.1" textLength="24.2" lengthAdjust="spacingAndGlyphs">1920.000</text><text x="729.6" y="287.8" font-size="6.7" fill="#4a4a4a" stroke="#4a4a4a" stroke-width="0.1" textLength="24.2" lengthAdjust="spacingAndGlyphs">1900.000</text><text x="729.6" y="308.8" font-size="6.7" fill="#4a4a4a" stroke="#4a4a4a" stroke-width="0.1" textLength="24.2" lengthAdjust="spacingAndGlyphs">1880.000</text><text x="729.6" y="329.8" font-size="6.7" fill="#4a4a4a" stroke="#4a4a4a" stroke-width="0.1" textLength="24.2" lengthAdjust="spacingAndGlyphs">1860.000</text><text x="729.6" y="350.7" font-size="6.7" fill="#4a4a4a" stroke="#4a4a4a" stroke-width="0.1" textLength="24.2" lengthAdjust="spacingAndGlyphs">1840.000</text><text x="729.6" y="371.7" font-size="6.7" fill="#4a4a4a" stroke="#4a4a4a" stroke-width="0.1" textLength="24.2" lengthAdjust="spacingAndGlyphs">1820.000</text><rect x="726" y="20.6" width="30.1" height="7.8" rx="1" fill="#b4650f"/><text x="729.6" y="26.6" font-size="6.4" font-weight="bold" fill="#fff" stroke="#fff" stroke-width="0.1" textLength="23.6" lengthAdjust="spacingAndGlyphs">2148.809</text><rect x="726" y="102.8" width="30.1" height="7.8" rx="1" fill="#b4650f"/><text x="729.6" y="108.9" font-size="6.4" font-weight="bold" fill="#fff" stroke="#fff" stroke-width="0.1" textLength="23.6" lengthAdjust="spacingAndGlyphs">2070.427</text><rect x="726" y="124.2" width="30.1" height="7.8" rx="1" fill="#b4650f"/><text x="729.6" y="130.3" font-size="6.4" font-weight="bold" fill="#fff" stroke="#fff" stroke-width="0.1" textLength="23.6" lengthAdjust="spacingAndGlyphs">2050.033</text><rect x="726" y="166.2" width="30.1" height="7.8" rx="1" fill="#b4650f"/><text x="729.6" y="172.3" font-size="6.4" font-weight="bold" fill="#fff" stroke="#fff" stroke-width="0.1" textLength="23.6" lengthAdjust="spacingAndGlyphs">2009.958</text><rect x="726" y="187.4" width="30.1" height="7.8" rx="1" fill="#b4650f"/><text x="729.6" y="193.5" font-size="6.4" font-weight="bold" fill="#fff" stroke="#fff" stroke-width="0.1" textLength="23.6" lengthAdjust="spacingAndGlyphs">1981.916</text><rect x="726" y="226.6" width="30.1" height="7.8" rx="1" fill="#b4650f"/><text x="729.6" y="232.7" font-size="6.4" font-weight="bold" fill="#fff" stroke="#fff" stroke-width="0.1" textLength="23.6" lengthAdjust="spacingAndGlyphs">1952.396</text><rect x="726" y="265.9" width="30.1" height="7.8" rx="1" fill="#b4650f"/><text x="729.6" y="272.0" font-size="6.4" font-weight="bold" fill="#fff" stroke="#fff" stroke-width="0.1" textLength="23.6" lengthAdjust="spacingAndGlyphs">1914.902</text><rect x="726" y="285.4" width="30.1" height="7.8" rx="1" fill="#b4650f"/><text x="729.6" y="291.5" font-size="6.4" font-weight="bold" fill="#fff" stroke="#fff" stroke-width="0.1" textLength="23.6" lengthAdjust="spacingAndGlyphs">1896.318</text><rect x="726" y="309.2" width="30.1" height="7.8" rx="1" fill="#b4650f"/><text x="729.6" y="315.3" font-size="6.4" font-weight="bold" fill="#fff" stroke="#fff" stroke-width="0.1" textLength="23.6" lengthAdjust="spacingAndGlyphs">1873.638</text><rect x="726" y="333.6" width="30.1" height="7.8" rx="1" fill="#b4650f"/><text x="729.6" y="339.7" font-size="6.4" font-weight="bold" fill="#fff" stroke="#fff" stroke-width="0.1" textLength="23.6" lengthAdjust="spacingAndGlyphs">1850.430</text><rect x="726" y="352.5" width="30.1" height="7.8" rx="1" fill="#b4650f"/><text x="729.6" y="358.6" font-size="6.4" font-weight="bold" fill="#fff" stroke="#fff" stroke-width="0.1" textLength="23.6" lengthAdjust="spacingAndGlyphs">1832.341</text><rect x="726" y="372.5" width="30.1" height="7.8" rx="1" fill="#b4650f"/><text x="729.6" y="378.6" font-size="6.4" font-weight="bold" fill="#fff" stroke="#fff" stroke-width="0.1" textLength="23.6" lengthAdjust="spacingAndGlyphs">1813.349</text><rect x="726" y="383.6" width="30.1" height="7.8" rx="1" fill="#b4650f"/><text x="729.6" y="389.7" font-size="6.4" font-weight="bold" fill="#fff" stroke="#fff" stroke-width="0.1" textLength="23.6" lengthAdjust="spacingAndGlyphs">1802.695</text><rect x="726" y="195.5" width="30.1" height="7.8" rx="1" fill="#d65248"/><text x="729.6" y="201.6" font-size="6.4" font-weight="bold" fill="#fff" stroke="#fff" stroke-width="0.1" textLength="23.6" lengthAdjust="spacingAndGlyphs">1981.845</text><rect x="727.4" y="2.6" width="28.2" height="11.6" rx="2" fill="#fff" stroke="#efefef" stroke-width="0.8"/><text x="729.4" y="11" font-size="6.9" fill="#333" stroke="#333" stroke-width="0.1" textLength="10.5" lengthAdjust="spacingAndGlyphs">USD</text><path d="M750.9,7.7 L754.2,7.7 L752.55,9.4 Z" fill="#222"/><polygon points="745.60,398.40 743.80,401.52 740.20,401.52 738.40,398.40 740.20,395.28 743.80,395.28" fill="none" stroke="#222" stroke-width="1"/><circle cx="742" cy="398.4" r="1.3" fill="none" stroke="#222" stroke-width="1"/><text x="8.6" y="400.8" font-size="6.6" fill="#4a4a4a" text-anchor="middle">Окт</text><text x="66.5" y="400.8" font-size="6.6" fill="#4a4a4a" text-anchor="middle">9</text><text x="125" y="400.8" font-size="6.6" fill="#4a4a4a" text-anchor="middle">16</text><text x="182.9" y="400.8" font-size="6.6" fill="#4a4a4a" text-anchor="middle">23</text><text x="224" y="400.8" font-size="6.6" fill="#4a4a4a" text-anchor="middle">15:00</text><text x="265.2" y="400.8" font-size="6.6" fill="#4a4a4a" text-anchor="middle" font-weight="bold">Ноя</text><text x="309" y="400.8" font-size="6.6" fill="#4a4a4a" text-anchor="middle">7</text><text x="357.8" y="400.8" font-size="6.6" fill="#4a4a4a" text-anchor="middle">13</text><text x="416.5" y="400.8" font-size="6.6" fill="#4a4a4a" text-anchor="middle">20</text><text x="474.9" y="400.8" font-size="6.6" fill="#4a4a4a" text-anchor="middle">27</text><text x="519.7" y="400.8" font-size="6.6" fill="#4a4a4a" text-anchor="middle" font-weight="bold">Дек</text><text x="591.5" y="400.8" font-size="6.6" fill="#4a4a4a" text-anchor="middle">11</text><text x="649.5" y="400.8" font-size="6.6" fill="#4a4a4a" text-anchor="middle">18</text><text x="708" y="400.8" font-size="6.6" fill="#4a4a4a" text-anchor="middle">25</text><circle cx="8.5" cy="7.9" r="4.4" fill="#d4a21e"/><path d="M7.4,6.1 h2.2 v1.2 h-2.2 Z M5.9,8.1 h2.2 v1.2 h-2.2 Z M8.9,8.1 h2.2 v1.2 h-2.2 Z" fill="#fff4cc"/><text x="15.2" y="10.6" font-size="6.8" fill="#2e2e2e" stroke="#2e2e2e" stroke-width="0.15" textLength="46" lengthAdjust="spacingAndGlyphs">XAUUSD - 4Ч -</text><rect x="4.7" y="375.6" width="17.6" height="1.6" fill="#fff"/><path d="M6.1,377.3 H12.1 V384 H9 V379.7 H6.1 Z" fill="#0e1118"/><circle cx="14.2" cy="378.7" r="1.25" fill="#0e1118"/><path d="M16.6,377.3 H20.1 L17.8,384 H14.9 Z" fill="#0e1118"/><text x="25.1" y="384.1" font-size="9.2" fill="#0e1118" stroke="#0e1118" stroke-width="0.55" textLength="58.6" lengthAdjust="spacingAndGlyphs">TradingView</text></g></svg></div></body></html>
